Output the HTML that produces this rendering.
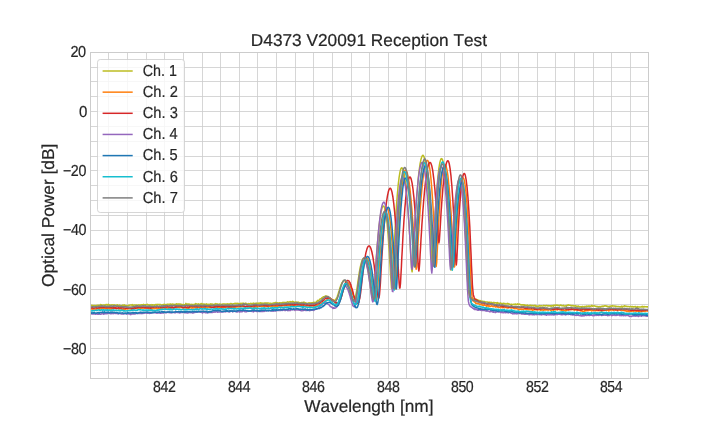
<!DOCTYPE html>
<html><head><meta charset="utf-8"><title>D4373 V20091 Reception Test</title>
<style>html,body{margin:0;padding:0;background:#fff}svg{display:block;will-change:transform}text{font-family:"Liberation Sans",Arial,sans-serif;fill:#262626;font-kerning:none;text-rendering:geometricPrecision;stroke:#262626;stroke-width:0.2px;stroke-linejoin:round}</style></head><body>
<svg width="720" height="432" viewBox="0 0 720 432">
<rect width="720" height="432" fill="#fff"/>
<defs><clipPath id="ax"><rect x="90.50" y="52.50" width="558.00" height="326.00"/></clipPath></defs>
<path d="M108.5 52.50V378.50M127.5 52.50V378.50M146.5 52.50V378.50M164.5 52.50V378.50M183.5 52.50V378.50M202.5 52.50V378.50M220.5 52.50V378.50M239.5 52.50V378.50M257.5 52.50V378.50M276.5 52.50V378.50M295.5 52.50V378.50M313.5 52.50V378.50M332.5 52.50V378.50M351.5 52.50V378.50M369.5 52.50V378.50M388.5 52.50V378.50M406.5 52.50V378.50M425.5 52.50V378.50M444.5 52.50V378.50M462.5 52.50V378.50M481.5 52.50V378.50M500.5 52.50V378.50M518.5 52.50V378.50M537.5 52.50V378.50M555.5 52.50V378.50M574.5 52.50V378.50M593.5 52.50V378.50M611.5 52.50V378.50M630.5 52.50V378.50" stroke="#cccccc" stroke-opacity="0.8" stroke-width="1" fill="none"/>
<path d="M90.50 67.5H648.50M90.50 81.5H648.50M90.50 96.5H648.50M90.50 111.5H648.50M90.50 126.5H648.50M90.50 141.5H648.50M90.50 156.5H648.50M90.50 170.5H648.50M90.50 185.5H648.50M90.50 200.5H648.50M90.50 215.5H648.50M90.50 230.5H648.50M90.50 244.5H648.50M90.50 259.5H648.50M90.50 274.5H648.50M90.50 289.5H648.50M90.50 304.5H648.50M90.50 319.5H648.50M90.50 333.5H648.50M90.50 348.5H648.50M90.50 363.5H648.50" stroke="#cccccc" stroke-opacity="0.8" stroke-width="1" fill="none"/>
<g clip-path="url(#ax)" fill="none" stroke-width="1.5" stroke-linejoin="round">
<polyline stroke="#bcbd22" points="90.2,305.4 90.7,305.2 91.1,305.5 91.6,305.4 92.0,305.3 92.5,305.6 92.9,305.5 93.4,305.5 93.8,305.8 94.3,305.5 94.7,305.6 95.2,305.9 95.6,305.5 96.1,305.5 96.5,305.6 97.0,305.9 97.4,305.2 97.8,305.2 98.3,305.2 98.7,305.2 99.2,305.6 99.6,305.2 100.1,305.4 100.5,304.5 101.0,305.2 101.4,304.9 101.9,305.4 102.3,305.3 102.8,305.2 103.2,304.9 103.7,305.0 104.1,305.0 104.6,305.5 105.0,304.8 105.4,305.3 105.9,304.6 106.3,304.5 106.8,304.8 107.2,304.7 107.7,305.3 108.1,304.3 108.6,305.0 109.0,304.8 109.5,305.2 109.9,305.0 110.4,305.3 110.8,305.1 111.3,305.0 111.7,305.0 112.2,304.7 112.6,305.0 113.0,305.1 113.5,305.2 113.9,304.7 114.4,305.4 114.8,305.0 115.3,305.8 115.7,305.5 116.2,305.3 116.6,305.4 117.1,304.7 117.5,304.8 118.0,305.9 118.4,305.8 118.9,305.5 119.3,305.1 119.8,305.2 120.2,305.4 120.6,305.8 121.1,305.6 121.5,306.1 122.0,305.8 122.4,305.2 122.9,305.1 123.3,305.6 123.8,305.3 124.2,304.9 124.7,305.4 125.1,305.5 125.6,305.4 126.0,305.4 126.5,305.6 126.9,305.8 127.4,305.8 127.8,305.6 128.2,305.8 128.7,305.3 129.1,305.4 129.6,305.2 130.0,304.9 130.5,305.0 130.9,304.9 131.4,305.1 131.8,305.2 132.3,304.5 132.7,305.3 133.2,305.2 133.6,305.3 134.1,305.0 134.5,305.0 135.0,304.9 135.4,305.2 135.8,305.6 136.3,305.1 136.7,305.0 137.2,305.2 137.6,305.2 138.1,305.0 138.5,304.8 139.0,305.1 139.4,305.4 139.9,305.1 140.3,305.0 140.8,305.3 141.2,304.7 141.7,305.0 142.1,304.7 142.5,304.8 143.0,304.9 143.4,304.4 143.9,305.0 144.3,305.0 144.8,304.7 145.2,304.6 145.7,304.8 146.1,305.1 146.6,304.7 147.0,304.7 147.5,304.3 147.9,304.9 148.4,304.8 148.8,305.0 149.3,305.3 149.7,304.9 150.1,304.7 150.6,305.1 151.0,305.0 151.5,305.2 151.9,304.6 152.4,305.1 152.8,304.8 153.3,305.1 153.7,304.9 154.2,305.0 154.6,305.4 155.1,304.7 155.5,304.5 156.0,305.1 156.4,304.5 156.9,304.5 157.3,304.7 157.7,304.5 158.2,304.9 158.6,304.4 159.1,304.3 159.5,304.9 160.0,304.7 160.4,304.4 160.9,304.8 161.3,305.0 161.8,305.1 162.2,304.8 162.7,304.9 163.1,304.6 163.6,305.1 164.0,304.4 164.5,304.7 164.9,304.4 165.3,304.7 165.8,304.9 166.2,304.6 166.7,304.7 167.1,304.5 167.6,304.3 168.0,304.1 168.5,304.3 168.9,304.4 169.4,304.4 169.8,304.1 170.3,303.9 170.7,304.3 171.2,304.2 171.6,304.4 172.1,304.2 172.5,304.0 172.9,305.0 173.4,304.2 173.8,304.5 174.3,304.9 174.7,304.3 175.2,304.4 175.6,304.3 176.1,304.7 176.5,303.8 177.0,304.3 177.4,304.3 177.9,303.9 178.3,304.1 178.8,304.0 179.2,304.0 179.6,304.8 180.1,303.9 180.5,304.5 181.0,304.4 181.4,304.3 181.9,304.8 182.3,304.6 182.8,304.4 183.2,304.6 183.7,304.5 184.1,304.9 184.6,304.8 185.0,304.7 185.5,304.3 185.9,303.4 186.4,304.2 186.8,304.3 187.2,304.3 187.7,304.0 188.1,304.1 188.6,304.6 189.0,304.1 189.5,304.4 189.9,304.2 190.4,304.9 190.8,304.8 191.3,304.3 191.7,304.9 192.2,304.4 192.6,304.4 193.1,304.4 193.5,304.4 194.0,304.4 194.4,304.3 194.8,304.4 195.3,304.3 195.7,303.5 196.2,303.9 196.6,304.0 197.1,304.1 197.5,304.3 198.0,304.1 198.4,304.2 198.9,303.9 199.3,304.4 199.8,304.8 200.2,304.3 200.7,304.0 201.1,303.5 201.6,303.8 202.0,304.3 202.4,304.0 202.9,304.2 203.3,304.0 203.8,304.3 204.2,304.5 204.7,304.1 205.1,304.2 205.6,304.4 206.0,304.3 206.5,303.9 206.9,304.4 207.4,304.6 207.8,304.3 208.3,304.9 208.7,304.2 209.2,304.6 209.6,304.5 210.0,304.3 210.5,303.9 210.9,304.5 211.4,304.0 211.8,304.2 212.3,304.6 212.7,304.0 213.2,304.4 213.6,304.6 214.1,304.4 214.5,304.3 215.0,303.9 215.4,304.2 215.9,303.6 216.3,303.9 216.8,304.1 217.2,304.1 217.6,303.9 218.1,304.5 218.5,304.5 219.0,304.3 219.4,303.9 219.9,304.1 220.3,304.2 220.8,304.3 221.2,304.8 221.7,304.3 222.1,304.7 222.6,304.0 223.0,304.1 223.5,304.1 223.9,303.9 224.4,303.9 224.8,304.0 225.2,304.0 225.7,304.2 226.1,304.5 226.6,304.1 227.0,303.8 227.5,303.9 227.9,304.2 228.4,304.0 228.8,304.3 229.3,304.0 229.7,304.2 230.2,304.0 230.6,303.5 231.1,303.8 231.5,303.6 231.9,304.1 232.4,304.1 232.8,303.9 233.3,303.7 233.7,303.9 234.2,303.5 234.6,303.8 235.1,303.3 235.5,303.4 236.0,303.9 236.4,303.4 236.9,303.6 237.3,303.3 237.8,303.8 238.2,303.6 238.7,303.5 239.1,304.4 239.5,304.1 240.0,303.6 240.4,303.6 240.9,303.3 241.3,303.4 241.8,303.7 242.2,303.3 242.7,303.5 243.1,303.3 243.6,303.4 244.0,303.2 244.5,303.7 244.9,303.7 245.4,304.0 245.8,303.0 246.3,303.9 246.7,303.9 247.1,304.0 247.6,304.0 248.0,303.9 248.5,303.6 248.9,303.7 249.4,303.7 249.8,303.9 250.3,303.7 250.7,303.3 251.2,303.6 251.6,303.5 252.1,304.1 252.5,303.4 253.0,303.4 253.4,303.1 253.9,304.1 254.3,303.4 254.7,303.4 255.2,303.3 255.6,303.5 256.1,303.3 256.5,303.1 257.0,303.3 257.4,303.3 257.9,303.3 258.3,303.3 258.8,303.1 259.2,303.3 259.7,303.6 260.1,302.7 260.6,303.4 261.0,303.0 261.5,303.3 261.9,303.1 262.3,303.3 262.8,303.1 263.2,303.3 263.7,303.5 264.1,303.1 264.6,302.9 265.0,303.1 265.5,303.1 265.9,303.4 266.4,303.1 266.8,303.0 267.3,303.3 267.7,302.9 268.2,303.1 268.6,303.1 269.0,303.3 269.5,303.4 269.9,303.3 270.4,303.3 270.8,303.3 271.3,303.7 271.7,303.6 272.2,303.4 272.6,303.8 273.1,303.0 273.5,303.1 274.0,303.1 274.4,303.2 274.9,302.8 275.3,303.0 275.8,302.4 276.2,302.8 276.6,303.3 277.1,302.7 277.5,303.0 278.0,303.0 278.4,302.9 278.9,302.9 279.3,302.8 279.8,302.7 280.2,302.8 280.7,303.0 281.1,303.2 281.6,303.0 282.0,302.7 282.5,302.5 282.9,302.3 283.4,303.0 283.8,302.6 284.2,302.6 284.7,302.6 285.1,302.4 285.6,302.4 286.0,302.4 286.5,302.4 286.9,302.1 287.4,301.9 287.8,301.7 288.3,302.2 288.7,302.2 289.2,302.0 289.6,302.1 290.1,301.6 290.5,302.0 291.0,301.8 291.4,302.1 291.8,301.9 292.3,301.8 292.7,301.4 293.2,302.0 293.6,301.8 294.1,302.4 294.5,302.2 295.0,302.2 295.4,302.1 295.9,302.0 296.3,302.0 296.8,302.6 297.2,302.2 297.7,302.7 298.1,302.0 298.6,302.5 299.0,302.5 299.4,302.7 299.9,302.7 300.3,302.7 300.8,302.8 301.2,302.5 301.7,302.6 302.1,302.5 302.6,302.7 303.0,302.6 303.5,303.0 303.9,301.9 304.4,303.1 304.8,303.1 305.3,302.7 305.7,302.7 306.2,303.3 306.6,303.5 307.0,303.4 307.5,303.3 307.9,303.3 308.4,303.1 308.8,302.8 309.3,302.8 309.7,303.3 310.2,303.0 310.6,302.9 311.1,302.7 311.5,303.1 312.0,303.2 312.4,302.8 312.9,302.6 313.3,303.0 313.8,302.3 314.2,302.3 314.6,302.6 315.1,302.8 315.5,302.4 316.0,302.1 316.4,301.7 316.9,302.0 317.3,300.7 317.8,300.4 318.2,300.9 318.7,300.8 319.1,300.1 319.6,299.6 320.0,299.0 320.5,298.9 320.9,298.7 321.3,298.8 321.8,297.9 322.2,297.5 322.7,297.5 323.1,297.0 323.6,296.8 324.0,296.7 324.5,296.7 324.9,296.2 325.4,296.5 325.8,295.8 326.3,296.3 326.7,296.1 327.2,296.5 327.6,296.4 328.1,296.8 328.5,296.9 328.9,297.5 329.4,298.0 329.8,298.0 330.3,298.4 330.7,299.1 331.2,299.2 331.6,299.8 332.1,299.8 332.5,300.2 333.0,300.3 333.4,299.9 333.9,300.5 334.3,300.4 334.8,300.2 335.2,300.1 335.7,299.8 336.1,298.9 336.5,298.0 337.0,297.9 337.4,296.1 337.9,294.9 338.3,293.5 338.8,291.7 339.2,290.5 339.7,288.8 340.1,287.5 340.6,286.1 341.0,284.7 341.5,283.8 341.9,282.8 342.4,282.1 342.8,281.4 343.3,280.8 343.7,280.5 344.1,280.6 344.6,280.7 345.0,280.7 345.5,281.5 345.9,282.2 346.4,282.9 346.8,284.0 347.3,285.1 347.7,286.2 348.2,287.6 348.6,289.2 349.1,290.3 349.5,292.1 350.0,293.5 350.4,294.8 350.9,296.1 351.3,297.1 351.7,298.1 352.2,299.1 352.6,299.5 353.1,300.1 353.5,300.3 354.0,300.1 354.4,299.3 354.9,298.6 355.3,297.1 355.8,295.2 356.2,293.2 356.7,290.6 357.1,287.7 357.6,284.4 358.0,281.2 358.5,278.1 358.9,275.3 359.3,272.4 359.8,269.8 360.2,267.4 360.7,265.3 361.1,263.5 361.6,261.9 362.0,260.6 362.5,259.6 362.9,258.9 363.4,258.5 363.8,258.4 364.3,258.5 364.7,259.0 365.2,259.7 365.6,260.7 366.0,262.0 366.5,263.6 366.9,265.5 367.4,267.6 367.8,270.1 368.3,272.7 368.7,275.5 369.2,278.6 369.6,281.5 370.1,284.6 370.5,287.9 371.0,290.9 371.4,293.5 371.9,295.6 372.3,296.9 372.8,297.5 373.2,296.2 373.6,293.6 374.1,289.0 374.5,283.3 375.0,277.0 375.4,270.5 375.9,263.9 376.3,257.5 376.8,251.4 377.2,245.6 377.7,240.2 378.1,235.2 378.6,230.6 379.0,226.3 379.5,222.5 379.9,219.1 380.4,216.0 380.8,213.4 381.2,211.2 381.7,209.3 382.1,207.9 382.6,206.9 383.0,206.2 383.5,206.0 383.9,206.3 384.4,207.1 384.8,208.4 385.3,210.3 385.7,212.8 386.2,215.9 386.6,219.4 387.1,223.6 387.5,228.3 388.0,233.5 388.4,239.3 388.8,245.6 389.3,252.4 389.7,259.7 390.2,267.4 390.6,275.2 391.1,282.3 391.5,288.0 392.0,288.7 392.4,284.1 392.9,275.5 393.3,265.8 393.8,256.1 394.2,246.6 394.7,237.6 395.1,229.1 395.6,221.1 396.0,213.7 396.4,206.8 396.9,200.5 397.3,194.7 397.8,189.5 398.2,184.9 398.7,180.8 399.1,177.3 399.6,174.3 400.0,171.9 400.5,170.0 400.9,168.7 401.4,168.0 401.8,167.8 402.3,168.1 402.7,168.8 403.1,169.9 403.6,171.5 404.0,173.5 404.5,175.9 404.9,178.7 405.4,182.0 405.8,185.7 406.3,189.9 406.7,194.4 407.2,199.4 407.6,204.8 408.1,210.7 408.5,216.9 409.0,223.6 409.4,230.7 409.9,238.2 410.3,246.1 410.7,254.3 411.2,262.4 411.6,269.2 412.1,271.8 412.5,268.0 413.0,260.4 413.4,251.7 413.9,243.1 414.3,234.7 414.8,226.7 415.2,219.1 415.7,211.9 416.1,205.2 416.6,198.9 417.0,193.0 417.5,187.5 417.9,182.5 418.3,177.9 418.8,173.7 419.2,170.0 419.7,166.6 420.1,163.7 420.6,161.3 421.0,159.2 421.5,157.6 421.9,156.4 422.4,155.7 422.8,155.3 423.3,155.5 423.7,156.2 424.2,157.4 424.6,159.2 425.1,161.5 425.5,164.5 425.9,167.9 426.4,171.9 426.8,176.5 427.3,181.7 427.7,187.4 428.2,193.6 428.6,200.4 429.1,207.8 429.5,215.7 430.0,224.2 430.4,233.2 430.9,242.7 431.3,252.5 431.8,261.7 432.2,267.4 432.7,265.1 433.1,257.0 433.5,247.4 434.0,237.9 434.4,228.8 434.9,220.2 435.3,212.2 435.8,204.8 436.2,197.9 436.7,191.6 437.1,185.8 437.6,180.6 438.0,175.9 438.5,171.8 438.9,168.2 439.4,165.2 439.8,162.8 440.3,160.9 440.7,159.6 441.1,158.8 441.6,158.6 442.0,158.9 442.5,159.8 442.9,161.2 443.4,163.1 443.8,165.6 444.3,168.6 444.7,172.1 445.2,176.2 445.6,180.8 446.1,186.0 446.5,191.6 447.0,197.9 447.4,204.6 447.9,211.9 448.3,219.7 448.7,228.0 449.2,236.9 449.6,246.2 450.1,255.7 450.5,264.6 451.0,270.1 451.4,268.5 451.9,261.6 452.3,253.2 452.8,244.8 453.2,236.8 453.7,229.2 454.1,222.2 454.6,215.7 455.0,209.7 455.4,204.3 455.9,199.4 456.3,195.0 456.8,191.2 457.2,187.9 457.7,185.2 458.1,182.9 458.6,181.2 459.0,180.1 459.5,179.5 459.9,179.4 460.4,180.0 460.8,181.3 461.3,183.2 461.7,185.9 462.2,189.3 462.6,193.4 463.0,198.2 463.5,203.7 463.9,209.9 464.4,216.8 464.8,224.4 465.3,232.6 465.7,241.4 466.2,250.8 466.6,260.5 467.1,270.2 467.5,279.2 468.0,285.9 468.4,290.8 468.9,293.6 469.3,295.5 469.8,296.0 470.2,297.3 470.6,297.3 471.1,298.2 471.5,298.0 472.0,297.9 472.4,298.5 472.9,298.3 473.3,298.9 473.8,299.0 474.2,299.2 474.7,299.1 475.1,299.4 475.6,299.2 476.0,299.2 476.5,299.6 476.9,300.1 477.4,299.8 477.8,299.8 478.2,300.1 478.7,300.4 479.1,300.4 479.6,300.4 480.0,301.6 480.5,300.6 480.9,300.9 481.4,301.1 481.8,301.4 482.3,301.3 482.7,301.3 483.2,302.0 483.6,301.5 484.1,301.8 484.5,301.5 485.0,301.8 485.4,302.0 485.8,302.0 486.3,301.9 486.7,302.0 487.2,301.9 487.6,302.2 488.1,302.3 488.5,302.2 489.0,302.5 489.4,302.4 489.9,302.1 490.3,302.7 490.8,302.7 491.2,302.3 491.7,302.6 492.1,302.6 492.5,302.9 493.0,302.9 493.4,302.8 493.9,302.3 494.3,302.6 494.8,303.2 495.2,302.7 495.7,302.7 496.1,302.8 496.6,303.3 497.0,303.1 497.5,302.6 497.9,303.4 498.4,303.1 498.8,303.4 499.3,303.6 499.7,303.4 500.1,303.0 500.6,303.0 501.0,303.6 501.5,303.5 501.9,303.7 502.4,304.1 502.8,303.5 503.3,303.3 503.7,303.4 504.2,303.9 504.6,303.5 505.1,303.6 505.5,304.0 506.0,303.9 506.4,303.9 506.9,303.7 507.3,303.3 507.7,304.0 508.2,304.1 508.6,303.6 509.1,303.9 509.5,304.5 510.0,304.3 510.4,304.4 510.9,304.5 511.3,304.3 511.8,304.2 512.2,304.6 512.7,304.5 513.1,304.8 513.6,304.3 514.0,304.2 514.5,304.6 514.9,304.7 515.3,303.9 515.8,304.1 516.2,304.5 516.7,304.7 517.1,304.3 517.6,303.9 518.0,304.4 518.5,304.3 518.9,304.4 519.4,304.2 519.8,304.1 520.3,304.9 520.7,304.7 521.2,304.8 521.6,304.9 522.1,305.1 522.5,304.7 522.9,304.9 523.4,304.8 523.8,304.7 524.3,305.2 524.7,305.0 525.2,305.3 525.6,305.3 526.1,305.2 526.5,305.4 527.0,305.7 527.4,305.0 527.9,305.4 528.3,305.7 528.8,306.0 529.2,305.4 529.7,305.3 530.1,305.2 530.5,305.2 531.0,305.6 531.4,305.4 531.9,305.9 532.3,305.5 532.8,305.4 533.2,305.8 533.7,305.7 534.1,305.6 534.6,305.7 535.0,305.4 535.5,306.1 535.9,305.5 536.4,306.3 536.8,306.2 537.2,306.3 537.7,306.1 538.1,306.3 538.6,306.0 539.0,306.1 539.5,305.5 539.9,305.9 540.4,306.1 540.8,305.8 541.3,305.7 541.7,305.9 542.2,306.0 542.6,305.9 543.1,305.7 543.5,305.5 544.0,305.6 544.4,305.8 544.8,305.6 545.3,305.9 545.7,305.8 546.2,305.5 546.6,305.6 547.1,305.5 547.5,305.9 548.0,305.7 548.4,306.0 548.9,305.5 549.3,305.8 549.8,306.0 550.2,305.8 550.7,305.7 551.1,306.3 551.6,306.1 552.0,305.5 552.4,305.7 552.9,305.7 553.3,306.1 553.8,305.2 554.2,305.3 554.7,305.3 555.1,305.7 555.6,305.2 556.0,304.9 556.5,305.3 556.9,305.2 557.4,305.3 557.8,305.1 558.3,305.3 558.7,305.4 559.2,305.8 559.6,305.9 560.0,305.2 560.5,305.1 560.9,305.3 561.4,305.2 561.8,305.8 562.3,305.7 562.7,305.6 563.2,305.8 563.6,305.4 564.1,306.2 564.5,306.0 565.0,305.9 565.4,306.0 565.9,305.6 566.3,306.2 566.8,305.3 567.2,305.3 567.6,305.4 568.1,305.0 568.5,304.8 569.0,305.3 569.4,305.2 569.9,305.3 570.3,305.3 570.8,305.7 571.2,305.8 571.7,305.5 572.1,305.9 572.6,305.6 573.0,305.6 573.5,306.0 573.9,305.8 574.4,305.9 574.8,305.9 575.2,305.7 575.7,306.0 576.1,306.0 576.6,306.7 577.0,306.1 577.5,306.7 577.9,306.6 578.4,306.1 578.8,306.2 579.3,306.8 579.7,307.0 580.2,306.6 580.6,306.9 581.1,306.7 581.5,307.1 582.0,306.5 582.4,306.3 582.8,307.1 583.3,306.9 583.7,306.8 584.2,306.4 584.6,307.0 585.1,306.4 585.5,306.4 586.0,306.5 586.4,306.0 586.9,306.7 587.3,306.5 587.8,306.3 588.2,305.9 588.7,306.2 589.1,306.3 589.5,306.0 590.0,306.3 590.4,306.3 590.9,306.2 591.3,306.0 591.8,305.4 592.2,306.3 592.7,306.0 593.1,306.1 593.6,306.1 594.0,305.7 594.5,305.9 594.9,306.0 595.4,306.3 595.8,306.5 596.3,306.3 596.7,306.5 597.1,306.6 597.6,306.4 598.0,306.9 598.5,306.9 598.9,306.5 599.4,306.8 599.8,306.6 600.3,307.0 600.7,306.5 601.2,306.8 601.6,306.3 602.1,306.3 602.5,306.3 603.0,306.0 603.4,306.2 603.9,306.4 604.3,305.8 604.7,306.0 605.2,305.8 605.6,306.0 606.1,305.8 606.5,306.3 607.0,306.5 607.4,306.6 607.9,306.1 608.3,306.8 608.8,306.8 609.2,306.7 609.7,306.2 610.1,306.1 610.6,306.4 611.0,306.0 611.5,306.0 611.9,305.8 612.3,305.8 612.8,306.2 613.2,306.0 613.7,306.1 614.1,306.0 614.6,306.1 615.0,306.3 615.5,306.1 615.9,306.4 616.4,306.3 616.8,306.5 617.3,306.7 617.7,306.5 618.2,306.5 618.6,306.5 619.1,306.6 619.5,306.8 619.9,306.7 620.4,306.6 620.8,307.1 621.3,306.8 621.7,306.1 622.2,306.4 622.6,307.1 623.1,306.4 623.5,306.3 624.0,306.6 624.4,305.7 624.9,306.0 625.3,306.1 625.8,306.4 626.2,306.3 626.6,306.3 627.1,306.4 627.5,306.7 628.0,306.6 628.4,306.6 628.9,306.6 629.3,306.9 629.8,306.6 630.2,306.6 630.7,306.6 631.1,306.6 631.6,307.0 632.0,306.4 632.5,306.5 632.9,307.0 633.4,306.7 633.8,307.0 634.2,306.9 634.7,306.6 635.1,306.8 635.6,306.5 636.0,307.0 636.5,307.3 636.9,307.0 637.4,307.7 637.8,306.6 638.3,307.0 638.7,306.9 639.2,306.9 639.6,307.1 640.1,306.9 640.5,307.0 641.0,306.9 641.4,306.7 641.8,307.0 642.3,306.3 642.7,307.0 643.2,306.5 643.6,306.9 644.1,307.0 644.5,306.6 645.0,306.7 645.4,306.8 645.9,306.8 646.3,306.9 646.8,306.7 647.2,306.9 647.7,306.8 648.1,306.5 648.6,307.2"/>
<polyline stroke="#ff7f0e" points="90.2,309.2 90.7,309.3 91.1,309.0 91.6,309.1 92.0,309.0 92.5,309.2 92.9,308.9 93.4,309.2 93.8,309.1 94.3,309.0 94.7,309.2 95.2,309.0 95.6,308.9 96.1,309.1 96.5,309.2 97.0,308.4 97.4,308.8 97.8,308.7 98.3,308.9 98.7,308.3 99.2,308.8 99.6,309.2 100.1,308.7 100.5,309.0 101.0,308.7 101.4,308.8 101.9,308.4 102.3,308.6 102.8,308.7 103.2,308.2 103.7,307.9 104.1,308.7 104.6,308.3 105.0,308.5 105.4,308.5 105.9,309.0 106.3,309.0 106.8,308.5 107.2,308.8 107.7,309.0 108.1,308.4 108.6,308.5 109.0,308.6 109.5,309.0 109.9,308.7 110.4,308.3 110.8,309.2 111.3,309.0 111.7,308.8 112.2,308.4 112.6,308.5 113.0,308.5 113.5,308.5 113.9,308.5 114.4,308.2 114.8,307.6 115.3,308.4 115.7,308.1 116.2,308.6 116.6,308.1 117.1,308.5 117.5,308.5 118.0,308.7 118.4,308.8 118.9,308.8 119.3,309.0 119.8,309.1 120.2,308.3 120.6,308.7 121.1,308.7 121.5,308.9 122.0,309.4 122.4,309.1 122.9,309.4 123.3,309.5 123.8,309.4 124.2,309.3 124.7,309.3 125.1,309.3 125.6,309.4 126.0,309.2 126.5,308.9 126.9,308.6 127.4,308.8 127.8,309.1 128.2,308.9 128.7,308.7 129.1,308.7 129.6,308.7 130.0,308.7 130.5,308.9 130.9,309.0 131.4,309.3 131.8,308.6 132.3,308.7 132.7,309.0 133.2,308.7 133.6,308.7 134.1,308.7 134.5,308.0 135.0,308.5 135.4,307.8 135.8,308.4 136.3,308.6 136.7,308.4 137.2,307.9 137.6,308.5 138.1,308.4 138.5,309.1 139.0,308.3 139.4,308.8 139.9,308.4 140.3,308.0 140.8,308.4 141.2,308.1 141.7,308.3 142.1,308.3 142.5,308.1 143.0,307.8 143.4,308.1 143.9,308.1 144.3,308.3 144.8,308.5 145.2,308.0 145.7,308.1 146.1,308.0 146.6,307.8 147.0,307.8 147.5,308.3 147.9,308.0 148.4,308.1 148.8,308.3 149.3,308.9 149.7,308.7 150.1,308.6 150.6,308.5 151.0,308.8 151.5,309.1 151.9,308.4 152.4,308.8 152.8,308.9 153.3,308.6 153.7,308.5 154.2,308.6 154.6,308.6 155.1,308.6 155.5,308.2 156.0,308.4 156.4,308.3 156.9,308.9 157.3,308.5 157.7,308.5 158.2,308.5 158.6,308.8 159.1,308.4 159.5,307.9 160.0,308.1 160.4,308.3 160.9,308.3 161.3,308.4 161.8,307.9 162.2,308.2 162.7,308.0 163.1,307.7 163.6,307.7 164.0,307.8 164.5,308.4 164.9,308.1 165.3,307.7 165.8,308.3 166.2,307.7 166.7,308.0 167.1,307.7 167.6,308.1 168.0,308.3 168.5,308.2 168.9,307.6 169.4,308.0 169.8,308.2 170.3,307.7 170.7,308.3 171.2,307.9 171.6,307.8 172.1,307.8 172.5,307.8 172.9,307.9 173.4,308.4 173.8,307.7 174.3,307.7 174.7,307.7 175.2,307.5 175.6,307.3 176.1,307.4 176.5,307.0 177.0,306.8 177.4,307.3 177.9,307.4 178.3,307.6 178.8,307.1 179.2,307.7 179.6,306.8 180.1,307.0 180.5,307.4 181.0,307.2 181.4,307.6 181.9,307.8 182.3,307.4 182.8,308.0 183.2,307.7 183.7,307.9 184.1,307.5 184.6,307.8 185.0,307.5 185.5,307.6 185.9,308.0 186.4,308.0 186.8,308.2 187.2,307.6 187.7,308.2 188.1,307.7 188.6,308.1 189.0,307.7 189.5,307.3 189.9,307.7 190.4,307.7 190.8,307.7 191.3,307.6 191.7,308.1 192.2,307.7 192.6,307.8 193.1,308.0 193.5,308.0 194.0,307.5 194.4,307.5 194.8,307.6 195.3,307.9 195.7,307.7 196.2,307.9 196.6,308.0 197.1,307.6 197.5,307.7 198.0,307.8 198.4,307.8 198.9,307.3 199.3,307.5 199.8,307.8 200.2,306.8 200.7,307.7 201.1,307.2 201.6,307.5 202.0,307.1 202.4,307.3 202.9,307.1 203.3,307.5 203.8,307.7 204.2,307.2 204.7,307.7 205.1,307.8 205.6,307.8 206.0,308.0 206.5,307.7 206.9,307.3 207.4,307.3 207.8,307.5 208.3,307.3 208.7,307.2 209.2,307.5 209.6,306.9 210.0,307.2 210.5,307.7 210.9,307.0 211.4,307.4 211.8,307.1 212.3,307.1 212.7,307.3 213.2,307.2 213.6,307.0 214.1,307.7 214.5,307.8 215.0,307.4 215.4,307.4 215.9,306.8 216.3,307.0 216.8,307.1 217.2,307.3 217.6,307.7 218.1,307.6 218.5,307.3 219.0,307.2 219.4,307.3 219.9,307.2 220.3,307.1 220.8,307.4 221.2,307.4 221.7,307.6 222.1,307.0 222.6,307.9 223.0,307.2 223.5,307.1 223.9,307.8 224.4,307.3 224.8,306.9 225.2,307.3 225.7,307.2 226.1,307.1 226.6,306.8 227.0,307.0 227.5,307.4 227.9,307.6 228.4,307.7 228.8,307.3 229.3,307.9 229.7,307.6 230.2,307.3 230.6,307.7 231.1,307.5 231.5,307.4 231.9,307.2 232.4,307.7 232.8,307.3 233.3,307.2 233.7,307.2 234.2,307.6 234.6,307.0 235.1,307.3 235.5,307.1 236.0,307.2 236.4,306.5 236.9,306.9 237.3,306.4 237.8,307.0 238.2,306.9 238.7,306.4 239.1,306.9 239.5,306.6 240.0,306.4 240.4,306.7 240.9,306.8 241.3,306.6 241.8,306.3 242.2,306.4 242.7,306.1 243.1,306.5 243.6,306.6 244.0,306.8 244.5,306.6 244.9,306.7 245.4,306.6 245.8,306.8 246.3,306.8 246.7,306.7 247.1,306.4 247.6,306.8 248.0,306.9 248.5,306.5 248.9,306.5 249.4,306.9 249.8,306.9 250.3,307.4 250.7,307.3 251.2,307.0 251.6,306.6 252.1,306.5 252.5,306.8 253.0,307.1 253.4,306.9 253.9,307.4 254.3,307.0 254.7,307.3 255.2,307.0 255.6,306.6 256.1,306.4 256.5,306.8 257.0,306.7 257.4,307.1 257.9,306.7 258.3,306.0 258.8,306.0 259.2,306.0 259.7,306.1 260.1,305.7 260.6,306.2 261.0,306.2 261.5,305.4 261.9,306.4 262.3,306.1 262.8,306.3 263.2,305.9 263.7,306.3 264.1,306.4 264.6,306.4 265.0,306.1 265.5,306.6 265.9,306.7 266.4,306.4 266.8,306.5 267.3,306.3 267.7,306.5 268.2,306.6 268.6,306.3 269.0,306.2 269.5,306.0 269.9,306.2 270.4,306.7 270.8,306.2 271.3,306.2 271.7,306.2 272.2,306.0 272.6,306.2 273.1,305.9 273.5,306.3 274.0,305.8 274.4,306.5 274.9,306.8 275.3,306.4 275.8,305.5 276.2,306.3 276.6,306.2 277.1,306.1 277.5,306.2 278.0,306.0 278.4,306.1 278.9,305.6 279.3,305.8 279.8,306.0 280.2,305.8 280.7,305.8 281.1,306.1 281.6,305.5 282.0,305.9 282.5,305.6 282.9,305.7 283.4,305.5 283.8,305.3 284.2,305.5 284.7,305.8 285.1,305.7 285.6,305.4 286.0,305.6 286.5,305.6 286.9,305.5 287.4,305.5 287.8,305.2 288.3,305.4 288.7,305.3 289.2,305.5 289.6,305.7 290.1,305.1 290.5,305.1 291.0,305.5 291.4,305.1 291.8,305.2 292.3,305.6 292.7,305.0 293.2,305.8 293.6,305.3 294.1,305.0 294.5,305.5 295.0,304.8 295.4,305.3 295.9,304.8 296.3,305.2 296.8,304.9 297.2,305.1 297.7,304.5 298.1,305.0 298.6,304.9 299.0,305.0 299.4,305.2 299.9,305.3 300.3,305.2 300.8,305.1 301.2,305.2 301.7,305.3 302.1,305.6 302.6,305.4 303.0,305.9 303.5,305.7 303.9,306.2 304.4,306.0 304.8,305.9 305.3,306.3 305.7,306.2 306.2,305.7 306.6,305.9 307.0,305.8 307.5,305.8 307.9,305.9 308.4,305.9 308.8,306.1 309.3,305.8 309.7,306.5 310.2,306.2 310.6,305.9 311.1,305.9 311.5,306.1 312.0,306.1 312.4,305.8 312.9,306.0 313.3,306.1 313.8,305.5 314.2,305.8 314.6,305.6 315.1,306.0 315.5,306.2 316.0,305.3 316.4,305.0 316.9,305.9 317.3,305.3 317.8,305.0 318.2,304.9 318.7,304.8 319.1,304.7 319.6,304.8 320.0,304.1 320.5,304.0 320.9,304.0 321.3,304.4 321.8,303.3 322.2,303.4 322.7,303.0 323.1,302.4 323.6,302.2 324.0,302.1 324.5,301.5 324.9,301.1 325.4,301.0 325.8,300.4 326.3,300.4 326.7,300.0 327.2,299.2 327.6,298.7 328.1,299.0 328.5,298.4 328.9,298.5 329.4,298.1 329.8,298.6 330.3,298.0 330.7,298.7 331.2,299.0 331.6,299.1 332.1,299.8 332.5,299.7 333.0,300.2 333.4,300.3 333.9,300.9 334.3,301.8 334.8,302.2 335.2,302.1 335.7,302.6 336.1,302.4 336.5,303.1 337.0,302.9 337.4,303.1 337.9,302.6 338.3,302.8 338.8,302.4 339.2,302.1 339.7,301.1 340.1,300.1 340.6,299.1 341.0,297.6 341.5,296.5 341.9,294.8 342.4,293.2 342.8,291.7 343.3,290.0 343.7,288.6 344.1,287.5 344.6,286.3 345.0,285.2 345.5,284.3 345.9,283.6 346.4,283.1 346.8,282.6 347.3,282.5 347.7,282.5 348.2,282.7 348.6,283.4 349.1,283.8 349.5,284.6 350.0,285.4 350.4,286.5 350.9,287.8 351.3,289.0 351.7,290.9 352.2,292.3 352.6,293.4 353.1,294.9 353.5,296.8 354.0,297.8 354.4,299.1 354.9,300.7 355.3,301.5 355.8,301.9 356.2,302.3 356.7,301.7 357.1,301.3 357.6,300.1 358.0,298.6 358.5,296.5 358.9,293.6 359.3,290.2 359.8,287.0 360.2,284.0 360.7,280.6 361.1,277.6 361.6,274.3 362.0,271.6 362.5,269.0 362.9,266.6 363.4,264.5 363.8,262.7 364.3,261.2 364.7,260.0 365.2,259.0 365.6,258.3 366.0,258.0 366.5,257.9 366.9,258.1 367.4,258.6 367.8,259.4 368.3,260.5 368.7,261.8 369.2,263.5 369.6,265.4 370.1,267.6 370.5,270.1 371.0,272.8 371.4,275.9 371.9,278.9 372.3,282.2 372.8,285.5 373.2,288.9 373.6,292.0 374.1,294.8 374.5,297.6 375.0,299.8 375.4,300.6 375.9,301.2 376.3,300.3 376.8,297.6 377.2,293.7 377.7,288.2 378.1,282.1 378.6,275.3 379.0,268.7 379.5,262.1 379.9,255.9 380.4,249.9 380.8,244.3 381.2,239.1 381.7,234.3 382.1,229.9 382.6,225.8 383.0,222.2 383.5,219.0 383.9,216.1 384.4,213.7 384.8,211.7 385.3,210.0 385.7,208.8 386.2,208.0 386.6,207.6 387.1,207.6 387.5,208.1 388.0,209.1 388.4,210.6 388.8,212.7 389.3,215.3 389.7,218.4 390.2,222.0 390.6,226.1 391.1,230.8 391.5,236.0 392.0,241.7 392.4,247.9 392.9,254.5 393.3,261.6 393.8,269.1 394.2,276.7 394.7,283.6 395.1,288.7 395.6,289.0 396.0,283.3 396.4,274.8 396.9,265.4 397.3,256.0 397.8,246.9 398.2,238.3 398.7,230.1 399.1,222.5 399.6,215.4 400.0,208.8 400.5,202.7 400.9,197.1 401.4,192.1 401.8,187.5 402.3,183.5 402.7,180.1 403.1,177.1 403.6,174.7 404.0,172.8 404.5,171.4 404.9,170.5 405.4,170.2 405.8,170.3 406.3,170.8 406.7,171.7 407.2,172.9 407.6,174.6 408.1,176.6 408.5,179.0 409.0,181.7 409.4,184.9 409.9,188.4 410.3,192.3 410.7,196.6 411.2,201.2 411.6,206.3 412.1,211.7 412.5,217.5 413.0,223.6 413.4,230.1 413.9,237.0 414.3,244.2 414.8,251.7 415.2,259.2 415.7,265.7 416.1,269.2 416.6,267.2 417.0,261.0 417.5,253.3 417.9,245.4 418.3,237.7 418.8,230.3 419.2,223.2 419.7,216.5 420.1,210.2 420.6,204.3 421.0,198.7 421.5,193.5 421.9,188.7 422.4,184.3 422.8,180.2 423.3,176.5 423.7,173.2 424.2,170.3 424.6,167.8 425.1,165.6 425.5,163.8 425.9,162.4 426.4,161.3 426.8,160.7 427.3,160.4 427.7,160.5 428.2,161.3 428.6,162.6 429.1,164.5 429.5,167.0 430.0,170.1 430.4,173.9 430.9,178.1 431.3,183.0 431.8,188.5 432.2,194.6 432.7,201.3 433.1,208.5 433.5,216.4 434.0,224.8 434.4,233.9 434.9,243.4 435.3,253.2 435.8,262.2 436.2,266.4 436.7,262.3 437.1,253.5 437.6,243.9 438.0,234.6 438.5,225.8 438.9,217.6 439.4,210.0 439.8,202.9 440.3,196.5 440.7,190.6 441.1,185.3 441.6,180.7 442.0,176.6 442.5,173.1 442.9,170.2 443.4,167.9 443.8,166.2 444.3,165.1 444.7,164.6 445.2,164.6 445.6,165.2 446.1,166.3 446.5,167.9 447.0,170.0 447.4,172.6 447.9,175.7 448.3,179.4 448.7,183.5 449.2,188.2 449.6,193.4 450.1,199.0 450.5,205.2 451.0,211.9 451.4,219.1 451.9,226.9 452.3,235.1 452.8,243.7 453.2,252.7 453.7,261.2 454.1,267.1 454.6,266.7 455.0,260.7 455.4,252.6 455.9,244.3 456.3,236.4 456.8,229.0 457.2,222.0 457.7,215.6 458.1,209.6 458.6,204.2 459.0,199.2 459.5,194.8 459.9,190.9 460.4,187.5 460.8,184.6 461.3,182.3 461.7,180.4 462.2,179.0 462.6,178.2 463.0,177.9 463.5,178.1 463.9,179.1 464.4,180.7 464.8,183.1 465.3,186.1 465.7,189.9 466.2,194.3 466.6,199.5 467.1,205.3 467.5,211.9 468.0,219.2 468.4,227.0 468.9,235.6 469.3,244.8 469.8,254.6 470.2,264.8 470.6,274.8 471.1,283.9 471.5,291.7 472.0,296.0 472.4,298.9 472.9,300.9 473.3,301.0 473.8,301.1 474.2,301.8 474.7,302.0 475.1,302.4 475.6,303.1 476.0,303.5 476.5,303.3 476.9,303.3 477.4,303.6 477.8,303.7 478.2,303.4 478.7,303.4 479.1,304.3 479.6,304.3 480.0,304.2 480.5,304.3 480.9,305.0 481.4,303.8 481.8,304.4 482.3,304.6 482.7,305.3 483.2,304.9 483.6,305.4 484.1,305.1 484.5,305.2 485.0,305.4 485.4,305.4 485.8,305.7 486.3,305.6 486.7,306.3 487.2,305.6 487.6,305.9 488.1,305.3 488.5,305.9 489.0,306.6 489.4,305.7 489.9,306.3 490.3,306.5 490.8,306.2 491.2,306.0 491.7,305.8 492.1,306.5 492.5,306.4 493.0,306.4 493.4,306.6 493.9,306.7 494.3,306.6 494.8,306.6 495.2,306.4 495.7,307.2 496.1,306.6 496.6,306.7 497.0,306.6 497.5,307.1 497.9,307.2 498.4,307.1 498.8,307.4 499.3,307.5 499.7,307.5 500.1,307.6 500.6,307.7 501.0,307.6 501.5,307.6 501.9,307.6 502.4,307.8 502.8,307.2 503.3,307.4 503.7,307.5 504.2,307.8 504.6,307.4 505.1,307.6 505.5,307.6 506.0,307.6 506.4,307.7 506.9,307.5 507.3,308.0 507.7,307.9 508.2,307.8 508.6,307.9 509.1,307.7 509.5,307.6 510.0,307.5 510.4,307.7 510.9,308.0 511.3,308.0 511.8,308.0 512.2,307.6 512.7,307.9 513.1,308.1 513.6,308.2 514.0,307.8 514.5,308.3 514.9,308.9 515.3,308.2 515.8,308.4 516.2,308.5 516.7,308.6 517.1,308.8 517.6,309.0 518.0,309.1 518.5,309.4 518.9,309.8 519.4,309.8 519.8,309.2 520.3,309.1 520.7,309.2 521.2,309.4 521.6,309.0 522.1,309.2 522.5,309.2 522.9,309.3 523.4,309.5 523.8,309.4 524.3,309.1 524.7,308.8 525.2,308.8 525.6,309.3 526.1,309.2 526.5,309.4 527.0,309.4 527.4,309.3 527.9,309.2 528.3,309.8 528.8,309.1 529.2,309.6 529.7,309.8 530.1,309.0 530.5,309.8 531.0,309.6 531.4,309.8 531.9,309.3 532.3,310.3 532.8,309.6 533.2,310.1 533.7,309.4 534.1,309.3 534.6,309.6 535.0,310.0 535.5,309.5 535.9,309.2 536.4,309.7 536.8,309.8 537.2,309.3 537.7,310.0 538.1,309.8 538.6,309.7 539.0,309.7 539.5,309.5 539.9,309.9 540.4,310.2 540.8,310.3 541.3,310.0 541.7,309.9 542.2,309.8 542.6,309.8 543.1,310.3 543.5,309.8 544.0,310.1 544.4,309.6 544.8,310.0 545.3,309.9 545.7,310.0 546.2,309.6 546.6,309.9 547.1,309.2 547.5,309.7 548.0,310.3 548.4,310.0 548.9,309.7 549.3,309.8 549.8,309.8 550.2,309.9 550.7,310.4 551.1,310.3 551.6,309.7 552.0,310.1 552.4,309.9 552.9,309.7 553.3,310.3 553.8,310.2 554.2,309.6 554.7,309.8 555.1,309.7 555.6,309.3 556.0,309.7 556.5,309.6 556.9,309.5 557.4,310.0 557.8,309.1 558.3,309.4 558.7,309.6 559.2,309.2 559.6,309.8 560.0,309.8 560.5,310.1 560.9,309.9 561.4,310.2 561.8,310.1 562.3,310.4 562.7,310.3 563.2,310.3 563.6,310.4 564.1,310.4 564.5,310.5 565.0,310.7 565.4,311.0 565.9,310.3 566.3,310.7 566.8,310.2 567.2,310.2 567.6,310.1 568.1,310.0 568.5,309.8 569.0,310.1 569.4,309.7 569.9,309.4 570.3,309.4 570.8,309.3 571.2,309.7 571.7,309.6 572.1,309.2 572.6,309.6 573.0,309.7 573.5,309.5 573.9,310.1 574.4,309.9 574.8,309.8 575.2,310.0 575.7,309.6 576.1,309.8 576.6,309.7 577.0,310.2 577.5,310.0 577.9,310.0 578.4,310.0 578.8,310.1 579.3,310.4 579.7,310.4 580.2,310.1 580.6,310.8 581.1,311.1 581.5,310.8 582.0,310.8 582.4,311.2 582.8,311.0 583.3,311.8 583.7,311.2 584.2,311.3 584.6,310.6 585.1,311.0 585.5,310.4 586.0,310.8 586.4,310.7 586.9,310.6 587.3,310.7 587.8,310.4 588.2,310.0 588.7,310.6 589.1,310.2 589.5,310.0 590.0,310.3 590.4,310.3 590.9,310.4 591.3,310.4 591.8,311.0 592.2,310.1 592.7,310.4 593.1,310.6 593.6,310.5 594.0,310.5 594.5,310.2 594.9,310.7 595.4,310.7 595.8,310.7 596.3,310.2 596.7,310.6 597.1,310.4 597.6,310.7 598.0,310.5 598.5,310.6 598.9,310.7 599.4,310.3 599.8,310.6 600.3,310.8 600.7,310.0 601.2,310.9 601.6,311.0 602.1,311.1 602.5,310.2 603.0,310.6 603.4,310.5 603.9,310.2 604.3,310.4 604.7,310.3 605.2,310.0 605.6,310.3 606.1,310.2 606.5,310.4 607.0,310.4 607.4,310.1 607.9,310.3 608.3,310.4 608.8,310.9 609.2,310.6 609.7,310.5 610.1,310.2 610.6,310.0 611.0,310.0 611.5,310.1 611.9,309.9 612.3,309.9 612.8,309.8 613.2,310.5 613.7,309.8 614.1,309.6 614.6,309.8 615.0,310.1 615.5,310.2 615.9,310.0 616.4,309.6 616.8,309.8 617.3,310.4 617.7,310.7 618.2,309.8 618.6,309.2 619.1,310.2 619.5,310.0 619.9,309.9 620.4,309.9 620.8,309.8 621.3,310.5 621.7,310.1 622.2,310.4 622.6,310.0 623.1,310.2 623.5,310.1 624.0,310.8 624.4,310.8 624.9,310.8 625.3,310.8 625.8,311.0 626.2,311.2 626.6,311.1 627.1,311.5 627.5,310.9 628.0,311.4 628.4,311.6 628.9,311.2 629.3,311.7 629.8,311.1 630.2,311.3 630.7,310.7 631.1,311.0 631.6,311.3 632.0,310.8 632.5,311.0 632.9,310.8 633.4,311.7 633.8,311.0 634.2,311.0 634.7,310.6 635.1,311.2 635.6,310.9 636.0,311.0 636.5,311.4 636.9,311.2 637.4,311.0 637.8,311.2 638.3,311.3 638.7,311.3 639.2,311.3 639.6,311.3 640.1,311.4 640.5,311.8 641.0,311.5 641.4,311.4 641.8,310.9 642.3,311.5 642.7,310.8 643.2,311.2 643.6,310.6 644.1,311.5 644.5,311.0 645.0,311.4 645.4,311.2 645.9,310.9 646.3,310.7 646.8,311.1 647.2,310.9 647.7,311.2 648.1,310.6 648.6,311.2"/>
<polyline stroke="#d62728" points="90.2,307.9 90.7,307.3 91.1,307.8 91.6,307.9 92.0,308.1 92.5,307.7 92.9,307.9 93.4,308.2 93.8,308.1 94.3,307.9 94.7,308.0 95.2,307.7 95.6,307.7 96.1,307.4 96.5,308.1 97.0,307.9 97.4,307.9 97.8,307.9 98.3,307.7 98.7,307.8 99.2,307.4 99.6,307.8 100.1,307.5 100.5,307.2 101.0,307.1 101.4,307.4 101.9,307.3 102.3,307.4 102.8,307.3 103.2,307.5 103.7,307.3 104.1,307.2 104.6,307.1 105.0,307.7 105.4,307.5 105.9,307.6 106.3,307.6 106.8,307.8 107.2,307.6 107.7,307.4 108.1,307.5 108.6,307.6 109.0,307.2 109.5,307.4 109.9,307.5 110.4,307.5 110.8,307.6 111.3,307.8 111.7,307.5 112.2,307.7 112.6,308.0 113.0,307.5 113.5,307.8 113.9,308.1 114.4,307.8 114.8,308.0 115.3,307.8 115.7,308.2 116.2,308.0 116.6,308.4 117.1,308.3 117.5,308.0 118.0,308.1 118.4,307.6 118.9,308.1 119.3,307.9 119.8,308.2 120.2,307.4 120.6,307.8 121.1,308.1 121.5,307.7 122.0,307.9 122.4,307.3 122.9,307.6 123.3,308.1 123.8,307.8 124.2,307.9 124.7,308.1 125.1,308.2 125.6,308.2 126.0,308.3 126.5,308.0 126.9,308.2 127.4,308.1 127.8,308.1 128.2,308.2 128.7,307.5 129.1,307.9 129.6,307.8 130.0,307.3 130.5,308.0 130.9,308.2 131.4,308.4 131.8,308.3 132.3,307.8 132.7,308.2 133.2,308.4 133.6,307.8 134.1,307.8 134.5,307.3 135.0,308.1 135.4,307.4 135.8,308.2 136.3,307.2 136.7,307.5 137.2,307.7 137.6,307.1 138.1,307.4 138.5,307.2 139.0,307.3 139.4,307.0 139.9,307.1 140.3,307.5 140.8,307.5 141.2,307.5 141.7,307.1 142.1,307.1 142.5,307.3 143.0,307.4 143.4,307.6 143.9,307.4 144.3,307.4 144.8,307.5 145.2,307.4 145.7,307.4 146.1,308.0 146.6,307.3 147.0,307.5 147.5,307.8 147.9,307.8 148.4,307.7 148.8,307.9 149.3,307.8 149.7,307.6 150.1,307.6 150.6,308.2 151.0,307.2 151.5,307.8 151.9,307.2 152.4,307.3 152.8,307.3 153.3,306.9 153.7,307.2 154.2,307.2 154.6,306.9 155.1,306.9 155.5,307.1 156.0,307.2 156.4,307.2 156.9,306.9 157.3,306.9 157.7,306.9 158.2,307.1 158.6,307.4 159.1,307.0 159.5,306.5 160.0,306.8 160.4,307.4 160.9,307.0 161.3,307.2 161.8,307.2 162.2,307.2 162.7,307.3 163.1,307.5 163.6,306.9 164.0,307.3 164.5,307.1 164.9,307.0 165.3,306.8 165.8,306.9 166.2,306.9 166.7,306.9 167.1,306.8 167.6,306.8 168.0,306.5 168.5,306.8 168.9,307.1 169.4,306.9 169.8,306.9 170.3,307.3 170.7,307.3 171.2,307.8 171.6,306.9 172.1,307.2 172.5,306.9 172.9,307.7 173.4,307.9 173.8,307.2 174.3,307.4 174.7,307.1 175.2,307.3 175.6,306.8 176.1,307.0 176.5,306.8 177.0,306.6 177.4,306.8 177.9,306.7 178.3,306.3 178.8,306.6 179.2,306.5 179.6,306.5 180.1,306.6 180.5,306.5 181.0,306.2 181.4,306.5 181.9,307.2 182.3,307.4 182.8,307.2 183.2,307.6 183.7,307.7 184.1,307.4 184.6,307.4 185.0,307.2 185.5,307.1 185.9,306.7 186.4,307.4 186.8,307.3 187.2,307.1 187.7,306.8 188.1,307.1 188.6,307.2 189.0,307.6 189.5,306.6 189.9,306.8 190.4,306.2 190.8,306.1 191.3,306.0 191.7,306.3 192.2,306.1 192.6,306.7 193.1,306.3 193.5,306.5 194.0,306.2 194.4,306.6 194.8,306.6 195.3,306.7 195.7,306.1 196.2,306.6 196.6,306.8 197.1,306.7 197.5,306.9 198.0,306.3 198.4,306.2 198.9,306.5 199.3,306.4 199.8,306.8 200.2,306.1 200.7,306.5 201.1,306.0 201.6,306.7 202.0,306.4 202.4,306.4 202.9,306.4 203.3,306.7 203.8,306.4 204.2,306.5 204.7,306.6 205.1,306.8 205.6,306.2 206.0,306.4 206.5,306.2 206.9,306.3 207.4,306.2 207.8,306.4 208.3,305.7 208.7,306.0 209.2,306.4 209.6,306.6 210.0,306.6 210.5,307.1 210.9,306.9 211.4,307.1 211.8,307.3 212.3,307.3 212.7,307.3 213.2,307.0 213.6,307.1 214.1,307.2 214.5,306.8 215.0,306.8 215.4,306.8 215.9,306.3 216.3,306.6 216.8,306.8 217.2,306.4 217.6,306.7 218.1,306.2 218.5,306.2 219.0,306.4 219.4,306.2 219.9,306.4 220.3,306.5 220.8,306.8 221.2,306.9 221.7,306.5 222.1,306.0 222.6,306.8 223.0,306.5 223.5,306.7 223.9,306.4 224.4,306.8 224.8,306.6 225.2,306.5 225.7,306.8 226.1,306.7 226.6,306.7 227.0,306.5 227.5,306.5 227.9,306.5 228.4,306.6 228.8,307.0 229.3,306.8 229.7,306.6 230.2,306.7 230.6,306.5 231.1,306.9 231.5,306.8 231.9,306.7 232.4,306.4 232.8,306.5 233.3,306.6 233.7,306.2 234.2,306.3 234.6,306.5 235.1,306.1 235.5,306.2 236.0,306.0 236.4,305.9 236.9,306.2 237.3,306.0 237.8,305.9 238.2,305.7 238.7,305.8 239.1,305.5 239.5,305.9 240.0,305.8 240.4,305.5 240.9,306.2 241.3,306.2 241.8,305.8 242.2,305.8 242.7,305.8 243.1,305.9 243.6,305.9 244.0,306.4 244.5,306.3 244.9,306.2 245.4,306.7 245.8,306.7 246.3,306.4 246.7,306.0 247.1,306.0 247.6,306.4 248.0,306.2 248.5,306.1 248.9,305.9 249.4,305.9 249.8,305.9 250.3,306.2 250.7,305.7 251.2,305.7 251.6,306.3 252.1,306.1 252.5,305.7 253.0,305.9 253.4,305.8 253.9,306.0 254.3,305.5 254.7,306.1 255.2,305.5 255.6,305.3 256.1,305.8 256.5,305.3 257.0,305.4 257.4,305.7 257.9,305.5 258.3,305.2 258.8,305.6 259.2,305.5 259.7,306.1 260.1,305.8 260.6,305.6 261.0,305.5 261.5,305.4 261.9,305.4 262.3,305.1 262.8,305.5 263.2,304.9 263.7,305.5 264.1,305.3 264.6,305.8 265.0,305.5 265.5,305.4 265.9,305.4 266.4,305.8 266.8,305.7 267.3,306.0 267.7,305.6 268.2,305.9 268.6,305.4 269.0,305.5 269.5,305.4 269.9,305.3 270.4,305.3 270.8,305.1 271.3,305.2 271.7,305.5 272.2,304.8 272.6,305.2 273.1,304.8 273.5,304.9 274.0,304.9 274.4,305.0 274.9,304.9 275.3,304.9 275.8,304.9 276.2,304.9 276.6,304.8 277.1,304.7 277.5,304.9 278.0,304.7 278.4,305.1 278.9,305.0 279.3,305.2 279.8,304.9 280.2,304.7 280.7,304.7 281.1,305.2 281.6,304.7 282.0,305.1 282.5,305.0 282.9,305.0 283.4,304.5 283.8,304.8 284.2,304.4 284.7,304.6 285.1,304.9 285.6,304.7 286.0,304.5 286.5,304.9 286.9,304.8 287.4,304.6 287.8,304.6 288.3,304.6 288.7,304.1 289.2,304.4 289.6,304.5 290.1,304.5 290.5,304.7 291.0,304.2 291.4,304.6 291.8,303.6 292.3,304.4 292.7,304.7 293.2,304.9 293.6,304.8 294.1,304.6 294.5,304.8 295.0,304.5 295.4,304.5 295.9,304.5 296.3,304.4 296.8,304.5 297.2,304.7 297.7,304.8 298.1,304.9 298.6,304.7 299.0,304.4 299.4,304.6 299.9,304.9 300.3,304.4 300.8,304.8 301.2,304.9 301.7,304.8 302.1,304.7 302.6,304.6 303.0,304.9 303.5,305.0 303.9,304.6 304.4,304.7 304.8,304.7 305.3,304.6 305.7,304.9 306.2,304.5 306.6,305.0 307.0,305.0 307.5,304.7 307.9,304.9 308.4,305.1 308.8,305.1 309.3,305.4 309.7,305.0 310.2,305.3 310.6,305.2 311.1,305.0 311.5,305.1 312.0,305.3 312.4,305.3 312.9,305.3 313.3,304.9 313.8,305.7 314.2,305.2 314.6,305.2 315.1,304.7 315.5,304.7 316.0,304.4 316.4,303.8 316.9,304.0 317.3,303.7 317.8,303.8 318.2,303.7 318.7,303.6 319.1,302.8 319.6,303.2 320.0,302.8 320.5,302.0 320.9,302.2 321.3,301.9 321.8,301.7 322.2,301.5 322.7,300.8 323.1,300.2 323.6,300.2 324.0,299.7 324.5,298.9 324.9,299.0 325.4,298.5 325.8,297.9 326.3,298.3 326.7,298.0 327.2,298.0 327.6,298.2 328.1,297.5 328.5,297.7 328.9,297.9 329.4,298.0 329.8,298.4 330.3,298.9 330.7,299.0 331.2,299.4 331.6,299.9 332.1,299.8 332.5,300.6 333.0,301.1 333.4,301.2 333.9,301.4 334.3,301.5 334.8,302.1 335.2,302.8 335.7,302.9 336.1,302.7 336.5,303.2 337.0,303.0 337.4,302.7 337.9,303.3 338.3,303.1 338.8,302.4 339.2,301.8 339.7,300.8 340.1,300.4 340.6,298.8 341.0,297.6 341.5,296.4 341.9,294.6 342.4,292.8 342.8,290.9 343.3,289.7 343.7,287.9 344.1,286.7 344.6,285.0 345.0,283.9 345.5,282.7 345.9,282.1 346.4,281.4 346.8,281.0 347.3,280.4 347.7,280.4 348.2,280.6 348.6,280.8 349.1,281.1 349.5,281.8 350.0,282.6 350.4,283.8 350.9,284.9 351.3,286.4 351.7,287.8 352.2,289.1 352.6,290.6 353.1,292.5 353.5,294.4 354.0,295.9 354.4,297.3 354.9,298.3 355.3,300.0 355.8,301.3 356.2,302.1 356.7,302.7 357.1,303.1 357.6,303.3 358.0,302.7 358.5,302.8 358.9,302.3 359.3,300.1 359.8,298.4 360.2,295.6 360.7,292.3 361.1,288.5 361.6,284.5 362.0,280.5 362.5,276.6 362.9,272.7 363.4,269.0 363.8,265.6 364.3,262.4 364.7,259.5 365.2,256.8 365.6,254.4 366.0,252.4 366.5,250.6 366.9,249.1 367.4,247.8 367.8,246.9 368.3,246.3 368.7,246.0 369.2,245.9 369.6,246.2 370.1,246.8 370.5,247.6 371.0,248.8 371.4,250.2 371.9,252.0 372.3,254.0 372.8,256.3 373.2,258.9 373.6,261.8 374.1,264.9 374.5,268.3 375.0,271.9 375.4,275.7 375.9,279.5 376.3,283.6 376.8,287.4 377.2,291.1 377.7,293.9 378.1,296.8 378.6,298.2 379.0,297.7 379.5,294.6 379.9,289.7 380.4,283.1 380.8,275.8 381.2,268.2 381.7,260.7 382.1,253.5 382.6,246.5 383.0,239.9 383.5,233.7 383.9,227.9 384.4,222.4 384.8,217.4 385.3,212.7 385.7,208.5 386.2,204.7 386.6,201.2 387.1,198.2 387.5,195.6 388.0,193.3 388.4,191.5 388.8,190.1 389.3,189.1 389.7,188.4 390.2,188.2 390.6,188.5 391.1,189.2 391.5,190.4 392.0,192.1 392.4,194.3 392.9,197.0 393.3,200.2 393.8,203.9 394.2,208.0 394.7,212.7 395.1,217.9 395.6,223.5 396.0,229.7 396.4,236.3 396.9,243.4 397.3,250.9 397.8,258.8 398.2,267.1 398.7,275.2 399.1,282.9 399.6,288.1 400.0,288.0 400.5,283.4 400.9,275.5 401.4,266.7 401.8,257.9 402.3,249.3 402.7,241.2 403.1,233.5 403.6,226.3 404.0,219.6 404.5,213.4 404.9,207.6 405.4,202.4 405.8,197.6 406.3,193.3 406.7,189.6 407.2,186.3 407.6,183.5 408.1,181.2 408.5,179.4 409.0,178.1 409.4,177.3 409.9,177.0 410.3,177.2 410.7,177.9 411.2,179.1 411.6,180.8 412.1,183.1 412.5,185.9 413.0,189.2 413.4,193.1 413.9,197.4 414.3,202.3 414.8,207.7 415.2,213.6 415.7,220.1 416.1,227.0 416.6,234.5 417.0,242.4 417.5,250.8 417.9,259.3 418.3,266.9 418.8,271.0 419.2,269.0 419.7,262.7 420.1,254.8 420.6,246.9 421.0,239.1 421.5,231.7 421.9,224.6 422.4,218.0 422.8,211.7 423.3,205.7 423.7,200.2 424.2,195.0 424.6,190.2 425.1,185.8 425.5,181.8 425.9,178.1 426.4,174.9 426.8,172.0 427.3,169.5 427.7,167.4 428.2,165.6 428.6,164.2 429.1,163.3 429.5,162.7 430.0,162.4 430.4,162.6 430.9,163.3 431.3,164.4 431.8,165.9 432.2,167.9 432.7,170.4 433.1,173.3 433.5,176.6 434.0,180.5 434.4,184.7 434.9,189.4 435.3,194.6 435.8,200.2 436.2,206.3 436.7,212.8 437.1,219.8 437.6,227.1 438.0,234.3 438.5,240.5 438.9,242.9 439.4,240.0 439.8,233.6 440.3,226.2 440.7,218.9 441.1,211.9 441.6,205.3 442.0,199.2 442.5,193.5 442.9,188.2 443.4,183.5 443.8,179.1 444.3,175.3 444.7,171.9 445.2,168.9 445.6,166.4 446.1,164.3 446.5,162.7 447.0,161.6 447.4,160.9 447.9,160.7 448.3,161.0 448.7,161.9 449.2,163.5 449.6,165.7 450.1,168.6 450.5,172.1 451.0,176.2 451.4,181.0 451.9,186.4 452.3,192.5 452.8,199.2 453.2,206.5 453.7,214.5 454.1,223.1 454.6,232.4 455.0,242.2 455.4,252.3 455.9,261.3 456.3,264.9 456.8,260.2 457.2,251.4 457.7,242.0 458.1,233.0 458.6,224.6 459.0,216.9 459.5,209.7 459.9,203.2 460.4,197.4 460.8,192.1 461.3,187.6 461.7,183.6 462.2,180.3 462.6,177.7 463.0,175.7 463.5,174.3 463.9,173.5 464.4,173.5 464.8,174.0 465.3,175.3 465.7,177.4 466.2,180.1 466.6,183.5 467.1,187.6 467.5,192.4 468.0,197.9 468.4,204.1 468.9,211.0 469.3,218.6 469.8,226.8 470.2,235.8 470.6,245.3 471.1,255.4 471.5,265.7 472.0,275.5 472.4,284.7 472.9,290.8 473.3,294.7 473.8,296.3 474.2,297.5 474.7,298.6 475.1,299.3 475.6,299.4 476.0,299.7 476.5,300.0 476.9,300.5 477.4,300.9 477.8,300.6 478.2,301.3 478.7,301.6 479.1,301.6 479.6,301.9 480.0,302.1 480.5,302.0 480.9,302.7 481.4,302.6 481.8,302.5 482.3,303.0 482.7,303.0 483.2,303.0 483.6,303.1 484.1,303.3 484.5,303.7 485.0,303.7 485.4,303.5 485.8,303.7 486.3,303.7 486.7,303.8 487.2,304.2 487.6,303.7 488.1,304.1 488.5,303.5 489.0,303.2 489.4,303.7 489.9,303.8 490.3,304.1 490.8,304.2 491.2,304.1 491.7,303.8 492.1,304.2 492.5,304.7 493.0,304.3 493.4,304.8 493.9,304.6 494.3,305.0 494.8,305.3 495.2,305.3 495.7,305.1 496.1,305.5 496.6,305.1 497.0,305.6 497.5,305.1 497.9,305.8 498.4,305.8 498.8,305.4 499.3,305.3 499.7,305.8 500.1,305.6 500.6,306.1 501.0,306.2 501.5,306.0 501.9,305.6 502.4,306.2 502.8,306.6 503.3,306.9 503.7,306.3 504.2,306.2 504.6,306.4 505.1,306.3 505.5,306.6 506.0,306.1 506.4,306.3 506.9,306.8 507.3,306.7 507.7,306.3 508.2,306.6 508.6,307.2 509.1,306.7 509.5,306.8 510.0,307.3 510.4,306.6 510.9,306.4 511.3,307.0 511.8,307.1 512.2,307.0 512.7,307.2 513.1,307.1 513.6,307.0 514.0,307.5 514.5,307.2 514.9,306.7 515.3,307.2 515.8,307.1 516.2,307.1 516.7,307.4 517.1,307.5 517.6,306.6 518.0,307.2 518.5,307.5 518.9,307.0 519.4,307.4 519.8,307.5 520.3,307.4 520.7,307.6 521.2,307.5 521.6,307.1 522.1,307.3 522.5,307.5 522.9,307.2 523.4,307.4 523.8,307.8 524.3,308.1 524.7,308.0 525.2,307.6 525.6,308.2 526.1,307.4 526.5,308.0 527.0,308.3 527.4,308.1 527.9,307.6 528.3,308.0 528.8,307.8 529.2,307.7 529.7,308.0 530.1,307.6 530.5,307.6 531.0,307.8 531.4,308.5 531.9,308.0 532.3,308.0 532.8,308.1 533.2,307.9 533.7,308.4 534.1,308.6 534.6,309.2 535.0,309.1 535.5,308.6 535.9,309.2 536.4,309.0 536.8,309.4 537.2,309.0 537.7,309.2 538.1,308.7 538.6,308.8 539.0,308.6 539.5,309.0 539.9,308.7 540.4,308.3 540.8,309.3 541.3,308.7 541.7,308.6 542.2,308.3 542.6,308.4 543.1,308.4 543.5,308.5 544.0,308.4 544.4,308.7 544.8,308.7 545.3,308.9 545.7,308.7 546.2,308.7 546.6,308.3 547.1,308.9 547.5,308.6 548.0,308.8 548.4,308.8 548.9,308.6 549.3,308.9 549.8,309.1 550.2,308.9 550.7,308.7 551.1,308.9 551.6,308.8 552.0,309.3 552.4,308.8 552.9,309.1 553.3,309.3 553.8,308.9 554.2,309.3 554.7,308.9 555.1,308.6 555.6,309.1 556.0,309.1 556.5,308.6 556.9,308.7 557.4,308.6 557.8,309.3 558.3,309.1 558.7,308.4 559.2,309.1 559.6,309.0 560.0,308.9 560.5,308.9 560.9,308.9 561.4,309.5 561.8,308.7 562.3,309.1 562.7,308.6 563.2,308.5 563.6,309.1 564.1,308.8 564.5,308.5 565.0,308.5 565.4,308.8 565.9,309.2 566.3,309.0 566.8,309.4 567.2,308.8 567.6,309.1 568.1,308.8 568.5,309.8 569.0,309.3 569.4,309.3 569.9,309.3 570.3,309.5 570.8,309.1 571.2,309.4 571.7,308.6 572.1,309.2 572.6,309.2 573.0,309.2 573.5,308.8 573.9,308.8 574.4,309.1 574.8,309.7 575.2,309.1 575.7,309.3 576.1,309.2 576.6,309.5 577.0,309.4 577.5,309.9 577.9,309.7 578.4,309.9 578.8,309.6 579.3,309.9 579.7,309.7 580.2,309.9 580.6,309.8 581.1,309.9 581.5,309.9 582.0,309.5 582.4,309.5 582.8,309.0 583.3,309.3 583.7,308.9 584.2,308.9 584.6,309.3 585.1,309.7 585.5,309.6 586.0,309.3 586.4,309.6 586.9,309.4 587.3,309.7 587.8,309.6 588.2,309.4 588.7,309.4 589.1,309.4 589.5,309.3 590.0,309.2 590.4,309.3 590.9,309.0 591.3,309.3 591.8,308.4 592.2,309.1 592.7,309.5 593.1,309.7 593.6,309.6 594.0,309.3 594.5,309.6 594.9,309.2 595.4,309.6 595.8,309.8 596.3,309.6 596.7,309.7 597.1,309.6 597.6,309.8 598.0,309.6 598.5,310.1 598.9,309.6 599.4,309.7 599.8,309.8 600.3,310.0 600.7,309.9 601.2,309.9 601.6,310.4 602.1,309.7 602.5,310.0 603.0,309.8 603.4,309.4 603.9,310.1 604.3,309.9 604.7,309.8 605.2,309.5 605.6,309.8 606.1,309.7 606.5,309.0 607.0,309.4 607.4,309.2 607.9,309.0 608.3,308.8 608.8,309.5 609.2,309.0 609.7,308.8 610.1,308.7 610.6,309.2 611.0,309.1 611.5,309.0 611.9,309.1 612.3,309.2 612.8,309.4 613.2,309.3 613.7,309.4 614.1,309.4 614.6,309.6 615.0,309.8 615.5,309.6 615.9,309.6 616.4,309.3 616.8,309.7 617.3,310.1 617.7,309.0 618.2,309.3 618.6,309.5 619.1,309.5 619.5,309.5 619.9,309.1 620.4,309.8 620.8,309.3 621.3,309.3 621.7,308.8 622.2,309.4 622.6,309.0 623.1,309.2 623.5,309.6 624.0,309.6 624.4,309.0 624.9,309.6 625.3,309.4 625.8,309.0 626.2,309.7 626.6,309.3 627.1,309.1 627.5,309.3 628.0,309.5 628.4,310.0 628.9,309.4 629.3,309.8 629.8,309.9 630.2,310.2 630.7,310.5 631.1,309.9 631.6,310.1 632.0,310.5 632.5,309.8 632.9,310.0 633.4,310.3 633.8,310.3 634.2,310.1 634.7,310.1 635.1,310.5 635.6,310.1 636.0,310.3 636.5,310.5 636.9,310.3 637.4,310.2 637.8,309.9 638.3,310.0 638.7,310.8 639.2,310.5 639.6,310.0 640.1,310.2 640.5,310.5 641.0,310.4 641.4,309.9 641.8,310.9 642.3,310.0 642.7,310.0 643.2,310.4 643.6,310.3 644.1,310.1 644.5,310.2 645.0,310.1 645.4,309.9 645.9,310.4 646.3,310.2 646.8,310.1 647.2,310.3 647.7,310.2 648.1,309.8 648.6,310.7"/>
<polyline stroke="#9467bd" points="90.2,313.8 90.7,314.1 91.1,313.4 91.6,313.6 92.0,314.1 92.5,313.9 92.9,313.6 93.4,314.1 93.8,313.9 94.3,313.9 94.7,314.0 95.2,313.8 95.6,314.3 96.1,313.6 96.5,313.9 97.0,313.8 97.4,314.2 97.8,313.2 98.3,313.7 98.7,314.3 99.2,314.0 99.6,313.9 100.1,314.1 100.5,314.2 101.0,314.2 101.4,314.0 101.9,313.8 102.3,313.7 102.8,313.4 103.2,313.8 103.7,314.3 104.1,313.7 104.6,313.4 105.0,313.9 105.4,313.5 105.9,313.4 106.3,313.7 106.8,313.5 107.2,313.7 107.7,313.0 108.1,313.2 108.6,313.3 109.0,313.2 109.5,313.2 109.9,313.6 110.4,313.7 110.8,313.7 111.3,313.7 111.7,313.2 112.2,313.1 112.6,313.0 113.0,313.8 113.5,313.5 113.9,313.2 114.4,313.0 114.8,313.6 115.3,313.6 115.7,313.6 116.2,313.4 116.6,313.4 117.1,313.3 117.5,313.7 118.0,313.2 118.4,313.9 118.9,313.5 119.3,313.3 119.8,313.4 120.2,313.6 120.6,313.8 121.1,313.8 121.5,314.0 122.0,314.0 122.4,314.0 122.9,313.5 123.3,314.1 123.8,314.0 124.2,313.5 124.7,313.7 125.1,313.4 125.6,313.4 126.0,313.7 126.5,313.5 126.9,314.1 127.4,313.8 127.8,313.5 128.2,313.8 128.7,313.9 129.1,313.3 129.6,313.8 130.0,314.4 130.5,313.7 130.9,314.6 131.4,313.9 131.8,313.9 132.3,314.1 132.7,314.1 133.2,314.0 133.6,313.2 134.1,314.1 134.5,314.0 135.0,313.8 135.4,313.9 135.8,313.3 136.3,313.6 136.7,313.6 137.2,313.3 137.6,313.4 138.1,313.5 138.5,313.4 139.0,313.4 139.4,313.4 139.9,313.4 140.3,313.4 140.8,313.0 141.2,313.7 141.7,313.3 142.1,313.2 142.5,313.4 143.0,313.4 143.4,313.1 143.9,313.4 144.3,313.1 144.8,313.0 145.2,313.1 145.7,313.0 146.1,312.8 146.6,312.6 147.0,313.3 147.5,312.7 147.9,313.2 148.4,313.2 148.8,313.0 149.3,313.0 149.7,313.5 150.1,312.6 150.6,313.1 151.0,312.8 151.5,312.8 151.9,312.7 152.4,312.8 152.8,312.6 153.3,312.6 153.7,312.7 154.2,312.3 154.6,312.6 155.1,312.5 155.5,312.8 156.0,312.9 156.4,312.7 156.9,313.2 157.3,312.5 157.7,313.0 158.2,313.1 158.6,313.1 159.1,313.0 159.5,312.9 160.0,312.9 160.4,313.2 160.9,313.3 161.3,313.0 161.8,313.0 162.2,313.1 162.7,312.5 163.1,313.0 163.6,312.9 164.0,312.4 164.5,312.6 164.9,312.5 165.3,312.7 165.8,312.7 166.2,312.6 166.7,312.8 167.1,312.2 167.6,312.3 168.0,311.9 168.5,312.5 168.9,312.6 169.4,312.2 169.8,312.6 170.3,312.2 170.7,312.6 171.2,313.0 171.6,312.6 172.1,312.6 172.5,312.4 172.9,312.6 173.4,312.4 173.8,312.4 174.3,312.7 174.7,312.7 175.2,312.6 175.6,312.8 176.1,312.3 176.5,312.2 177.0,312.4 177.4,312.5 177.9,312.6 178.3,312.2 178.8,312.2 179.2,313.0 179.6,312.0 180.1,312.2 180.5,312.8 181.0,312.6 181.4,312.6 181.9,312.5 182.3,312.6 182.8,312.4 183.2,312.3 183.7,311.9 184.1,312.5 184.6,312.7 185.0,312.3 185.5,312.7 185.9,312.7 186.4,312.7 186.8,312.9 187.2,312.9 187.7,312.8 188.1,312.9 188.6,312.7 189.0,312.1 189.5,312.5 189.9,312.7 190.4,312.7 190.8,312.1 191.3,312.6 191.7,312.4 192.2,312.9 192.6,313.0 193.1,312.4 193.5,312.9 194.0,312.4 194.4,312.2 194.8,312.5 195.3,312.3 195.7,312.2 196.2,312.2 196.6,312.1 197.1,312.0 197.5,311.9 198.0,311.9 198.4,311.8 198.9,311.8 199.3,311.9 199.8,312.2 200.2,312.0 200.7,312.0 201.1,312.2 201.6,312.4 202.0,311.9 202.4,313.0 202.9,312.3 203.3,312.5 203.8,312.2 204.2,312.1 204.7,312.4 205.1,312.7 205.6,312.4 206.0,312.8 206.5,312.5 206.9,312.7 207.4,312.4 207.8,312.9 208.3,312.5 208.7,312.4 209.2,312.5 209.6,312.5 210.0,312.6 210.5,312.5 210.9,312.0 211.4,312.5 211.8,312.6 212.3,312.5 212.7,312.3 213.2,312.0 213.6,312.2 214.1,311.9 214.5,311.7 215.0,312.2 215.4,311.9 215.9,312.0 216.3,311.7 216.8,311.7 217.2,311.8 217.6,312.2 218.1,312.0 218.5,312.0 219.0,312.0 219.4,312.1 219.9,311.9 220.3,311.9 220.8,311.9 221.2,312.1 221.7,312.0 222.1,312.1 222.6,311.9 223.0,311.6 223.5,311.7 223.9,311.7 224.4,311.3 224.8,311.7 225.2,311.6 225.7,311.9 226.1,311.4 226.6,311.6 227.0,311.4 227.5,311.4 227.9,311.6 228.4,311.5 228.8,311.9 229.3,311.7 229.7,312.0 230.2,311.3 230.6,311.3 231.1,311.2 231.5,311.2 231.9,311.1 232.4,311.5 232.8,311.9 233.3,311.6 233.7,311.0 234.2,311.3 234.6,311.2 235.1,311.3 235.5,311.4 236.0,311.7 236.4,311.9 236.9,311.5 237.3,311.9 237.8,311.3 238.2,311.6 238.7,311.6 239.1,311.7 239.5,312.1 240.0,311.8 240.4,311.3 240.9,311.8 241.3,311.7 241.8,311.0 242.2,311.8 242.7,311.3 243.1,311.2 243.6,310.8 244.0,311.0 244.5,311.2 244.9,311.8 245.4,311.4 245.8,311.8 246.3,311.3 246.7,311.7 247.1,311.1 247.6,311.2 248.0,311.4 248.5,311.1 248.9,311.1 249.4,311.1 249.8,311.1 250.3,310.9 250.7,311.2 251.2,311.3 251.6,311.2 252.1,311.5 252.5,311.1 253.0,311.2 253.4,311.9 253.9,311.4 254.3,311.3 254.7,311.3 255.2,311.1 255.6,310.8 256.1,310.7 256.5,311.5 257.0,310.8 257.4,311.5 257.9,310.8 258.3,311.0 258.8,311.4 259.2,311.3 259.7,311.4 260.1,311.0 260.6,311.5 261.0,311.5 261.5,311.3 261.9,311.0 262.3,311.5 262.8,311.2 263.2,311.4 263.7,310.9 264.1,311.4 264.6,310.9 265.0,310.9 265.5,311.0 265.9,310.6 266.4,310.4 266.8,310.8 267.3,310.7 267.7,310.7 268.2,310.4 268.6,310.5 269.0,310.6 269.5,310.7 269.9,310.8 270.4,310.7 270.8,310.7 271.3,310.3 271.7,310.5 272.2,311.3 272.6,310.9 273.1,310.5 273.5,310.5 274.0,311.2 274.4,310.8 274.9,310.4 275.3,310.9 275.8,310.8 276.2,310.6 276.6,310.8 277.1,310.2 277.5,310.4 278.0,310.3 278.4,310.5 278.9,310.1 279.3,310.4 279.8,310.5 280.2,310.3 280.7,310.6 281.1,310.4 281.6,309.7 282.0,310.4 282.5,310.4 282.9,310.2 283.4,310.0 283.8,310.0 284.2,310.0 284.7,310.4 285.1,310.1 285.6,310.5 286.0,309.8 286.5,309.9 286.9,309.9 287.4,310.5 287.8,310.7 288.3,310.2 288.7,310.4 289.2,310.5 289.6,310.4 290.1,310.5 290.5,310.5 291.0,309.9 291.4,309.8 291.8,309.6 292.3,309.7 292.7,309.7 293.2,309.6 293.6,309.8 294.1,309.7 294.5,309.9 295.0,310.4 295.4,309.8 295.9,309.5 296.3,309.6 296.8,310.1 297.2,309.9 297.7,310.0 298.1,309.6 298.6,309.7 299.0,310.3 299.4,310.3 299.9,310.3 300.3,310.4 300.8,309.9 301.2,310.8 301.7,310.7 302.1,310.8 302.6,310.6 303.0,310.3 303.5,310.6 303.9,310.2 304.4,309.9 304.8,310.3 305.3,310.0 305.7,310.4 306.2,310.3 306.6,310.5 307.0,310.2 307.5,310.4 307.9,310.3 308.4,310.3 308.8,310.2 309.3,310.7 309.7,310.3 310.2,310.5 310.6,310.4 311.1,310.2 311.5,310.0 312.0,310.2 312.4,310.2 312.9,309.7 313.3,309.9 313.8,310.5 314.2,309.8 314.6,309.8 315.1,309.4 315.5,309.3 316.0,308.9 316.4,309.2 316.9,308.7 317.3,308.6 317.8,308.5 318.2,308.3 318.7,307.5 319.1,306.8 319.6,306.8 320.0,306.0 320.5,305.8 320.9,305.2 321.3,305.0 321.8,304.4 322.2,304.4 322.7,303.7 323.1,303.2 323.6,303.1 324.0,303.2 324.5,303.3 324.9,302.8 325.4,303.1 325.8,302.9 326.3,302.8 326.7,303.7 327.2,303.6 327.6,303.9 328.1,304.1 328.5,304.5 328.9,304.6 329.4,305.3 329.8,305.7 330.3,306.6 330.7,306.6 331.2,307.0 331.6,307.2 332.1,307.2 332.5,308.0 333.0,308.5 333.4,307.6 333.9,308.2 334.3,308.3 334.8,307.9 335.2,307.9 335.7,307.9 336.1,307.5 336.5,307.0 337.0,306.7 337.4,305.6 337.9,304.1 338.3,303.2 338.8,301.9 339.2,300.1 339.7,298.8 340.1,297.0 340.6,295.6 341.0,294.2 341.5,292.6 341.9,291.3 342.4,290.3 342.8,288.9 343.3,288.1 343.7,287.3 344.1,287.0 344.6,286.6 345.0,286.5 345.5,286.4 345.9,286.6 346.4,286.9 346.8,287.7 347.3,288.5 347.7,289.3 348.2,290.4 348.6,291.8 349.1,293.1 349.5,294.6 350.0,295.9 350.4,297.7 350.9,299.2 351.3,300.5 351.7,302.3 352.2,303.4 352.6,305.1 353.1,306.0 353.5,306.2 354.0,306.7 354.4,306.9 354.9,306.3 355.3,305.1 355.8,302.7 356.2,300.3 356.7,297.3 357.1,294.0 357.6,290.3 358.0,287.0 358.5,283.8 358.9,280.4 359.3,277.3 359.8,274.4 360.2,271.7 360.7,269.4 361.1,267.3 361.6,265.5 362.0,263.9 362.5,262.7 362.9,261.7 363.4,261.1 363.8,260.7 364.3,260.6 364.7,260.8 365.2,261.3 365.6,262.1 366.0,263.2 366.5,264.6 366.9,266.2 367.4,268.2 367.8,270.4 368.3,272.8 368.7,275.6 369.2,278.7 369.6,281.9 370.1,285.2 370.5,288.6 371.0,292.1 371.4,295.2 371.9,298.3 372.3,300.7 372.8,301.9 373.2,301.3 373.6,298.2 374.1,293.6 374.5,287.3 375.0,280.2 375.4,273.2 375.9,266.1 376.3,259.3 376.8,252.8 377.2,246.7 377.7,240.9 378.1,235.6 378.6,230.6 379.0,226.0 379.5,221.8 379.9,218.1 380.4,214.7 380.8,211.7 381.2,209.1 381.7,207.0 382.1,205.2 382.6,203.8 383.0,202.9 383.5,202.3 383.9,202.2 384.4,202.5 384.8,203.3 385.3,204.7 385.7,206.6 386.2,209.1 386.6,212.1 387.1,215.6 387.5,219.6 388.0,224.2 388.4,229.3 388.8,234.9 389.3,241.0 389.7,247.7 390.2,254.8 390.6,262.4 391.1,270.4 391.5,278.5 392.0,286.4 392.4,291.4 392.9,291.6 393.3,285.5 393.8,276.7 394.2,267.3 394.7,258.0 395.1,249.1 395.6,240.7 396.0,232.7 396.4,225.3 396.9,218.4 397.3,212.1 397.8,206.2 398.2,200.9 398.7,196.1 399.1,191.9 399.6,188.2 400.0,185.0 400.5,182.3 400.9,180.2 401.4,178.6 401.8,177.6 402.3,177.0 402.7,177.0 403.1,177.5 403.6,178.4 404.0,179.7 404.5,181.5 404.9,183.8 405.4,186.4 405.8,189.6 406.3,193.2 406.7,197.2 407.2,201.7 407.6,206.6 408.1,212.0 408.5,217.8 409.0,224.1 409.4,230.8 409.9,238.0 410.3,245.6 410.7,253.4 411.2,261.2 411.6,267.6 412.1,269.3 412.5,264.9 413.0,257.1 413.4,248.5 413.9,240.1 414.3,232.0 414.8,224.3 415.2,217.1 415.7,210.3 416.1,204.0 416.6,198.1 417.0,192.7 417.5,187.7 417.9,183.2 418.3,179.1 418.8,175.4 419.2,172.2 419.7,169.5 420.1,167.2 420.6,165.4 421.0,164.0 421.5,163.0 421.9,162.5 422.4,162.5 422.8,162.9 423.3,163.9 423.7,165.5 424.2,167.5 424.6,170.1 425.1,173.2 425.5,176.8 425.9,180.9 426.4,185.6 426.8,190.8 427.3,196.5 427.7,202.8 428.2,209.5 428.6,216.8 429.1,224.6 429.5,233.0 430.0,241.8 430.4,251.1 430.9,260.5 431.3,269.1 431.8,273.1 432.2,269.5 432.7,261.2 433.1,252.0 433.5,242.9 434.0,234.2 434.4,226.1 434.9,218.4 435.3,211.3 435.8,204.7 436.2,198.7 436.7,193.1 437.1,188.1 437.6,183.6 438.0,179.6 438.5,176.2 438.9,173.3 439.4,170.9 439.8,169.0 440.3,167.7 440.7,166.9 441.1,166.6 441.6,166.8 442.0,167.6 442.5,168.8 442.9,170.6 443.4,172.8 443.8,175.6 444.3,178.9 444.7,182.7 445.2,187.0 445.6,191.8 446.1,197.1 446.5,203.0 447.0,209.3 447.4,216.1 447.9,223.5 448.3,231.4 448.7,239.7 449.2,248.5 449.6,257.4 450.1,265.4 450.5,269.4 451.0,266.7 451.4,259.5 451.9,251.2 452.3,243.1 452.8,235.3 453.2,228.0 453.7,221.3 454.1,215.0 454.6,209.2 455.0,204.0 455.4,199.2 455.9,195.0 456.3,191.2 456.8,188.0 457.2,185.3 457.7,183.1 458.1,181.4 458.6,180.2 459.0,179.5 459.5,179.3 459.9,179.8 460.4,181.0 460.8,182.9 461.3,185.4 461.7,188.7 462.2,192.7 462.6,197.4 463.0,202.8 463.5,208.9 463.9,215.6 464.4,223.1 464.8,231.2 465.3,240.1 465.7,249.5 466.2,259.5 466.6,269.9 467.1,280.3 467.5,289.3 468.0,296.6 468.4,301.4 468.9,303.5 469.3,304.9 469.8,305.4 470.2,306.5 470.6,306.5 471.1,307.0 471.5,307.3 472.0,307.3 472.4,308.0 472.9,308.2 473.3,308.2 473.8,309.0 474.2,308.6 474.7,309.2 475.1,309.7 475.6,308.9 476.0,309.0 476.5,309.5 476.9,309.9 477.4,310.2 477.8,309.7 478.2,309.5 478.7,310.3 479.1,310.0 479.6,309.6 480.0,309.9 480.5,310.2 480.9,309.6 481.4,310.5 481.8,310.0 482.3,309.9 482.7,310.6 483.2,310.4 483.6,310.4 484.1,309.7 484.5,310.5 485.0,310.6 485.4,310.9 485.8,310.1 486.3,310.4 486.7,311.2 487.2,311.2 487.6,310.9 488.1,311.1 488.5,311.1 489.0,311.4 489.4,311.7 489.9,311.2 490.3,311.6 490.8,310.7 491.2,311.4 491.7,311.4 492.1,311.5 492.5,311.9 493.0,311.8 493.4,312.2 493.9,312.0 494.3,311.9 494.8,312.0 495.2,312.7 495.7,311.8 496.1,312.1 496.6,311.6 497.0,311.8 497.5,311.8 497.9,311.7 498.4,312.0 498.8,311.8 499.3,312.0 499.7,311.8 500.1,311.8 500.6,312.4 501.0,312.4 501.5,312.6 501.9,312.0 502.4,312.7 502.8,312.5 503.3,312.6 503.7,312.8 504.2,312.4 504.6,312.6 505.1,312.3 505.5,312.8 506.0,312.5 506.4,312.0 506.9,312.3 507.3,312.6 507.7,312.4 508.2,312.9 508.6,312.5 509.1,312.6 509.5,312.6 510.0,312.6 510.4,312.7 510.9,313.1 511.3,313.2 511.8,313.4 512.2,313.2 512.7,313.9 513.1,313.5 513.6,313.8 514.0,313.6 514.5,313.1 514.9,313.8 515.3,313.4 515.8,313.3 516.2,313.9 516.7,313.6 517.1,313.5 517.6,313.7 518.0,313.6 518.5,313.5 518.9,313.4 519.4,313.6 519.8,313.2 520.3,313.4 520.7,313.6 521.2,313.5 521.6,314.1 522.1,314.1 522.5,314.1 522.9,313.8 523.4,313.5 523.8,314.1 524.3,314.3 524.7,314.2 525.2,313.9 525.6,314.3 526.1,314.2 526.5,313.8 527.0,313.6 527.4,313.9 527.9,314.0 528.3,314.1 528.8,313.9 529.2,314.9 529.7,314.2 530.1,314.3 530.5,314.5 531.0,314.5 531.4,314.4 531.9,314.7 532.3,314.4 532.8,314.8 533.2,314.5 533.7,314.4 534.1,314.9 534.6,314.4 535.0,314.6 535.5,314.6 535.9,314.2 536.4,314.4 536.8,314.7 537.2,314.3 537.7,314.1 538.1,314.5 538.6,314.5 539.0,314.5 539.5,314.6 539.9,314.7 540.4,314.3 540.8,314.3 541.3,314.9 541.7,314.6 542.2,314.7 542.6,314.5 543.1,314.4 543.5,314.6 544.0,314.5 544.4,314.6 544.8,314.7 545.3,314.8 545.7,314.7 546.2,315.1 546.6,315.3 547.1,314.7 547.5,314.7 548.0,314.4 548.4,314.7 548.9,314.9 549.3,314.5 549.8,314.2 550.2,314.7 550.7,314.5 551.1,314.7 551.6,314.9 552.0,314.3 552.4,314.7 552.9,314.2 553.3,314.7 553.8,315.0 554.2,314.8 554.7,314.7 555.1,314.6 555.6,314.4 556.0,314.4 556.5,313.9 556.9,314.8 557.4,314.5 557.8,314.2 558.3,314.0 558.7,314.2 559.2,314.2 559.6,314.1 560.0,314.4 560.5,314.4 560.9,314.3 561.4,314.8 561.8,314.5 562.3,314.8 562.7,314.5 563.2,314.6 563.6,314.3 564.1,314.4 564.5,314.4 565.0,314.7 565.4,314.3 565.9,314.9 566.3,314.1 566.8,314.1 567.2,314.2 567.6,314.1 568.1,314.6 568.5,314.4 569.0,314.5 569.4,314.2 569.9,314.2 570.3,314.0 570.8,314.7 571.2,314.8 571.7,314.5 572.1,314.8 572.6,314.9 573.0,314.6 573.5,314.8 573.9,315.0 574.4,314.7 574.8,315.0 575.2,315.4 575.7,315.2 576.1,315.2 576.6,315.4 577.0,315.0 577.5,315.3 577.9,315.2 578.4,315.2 578.8,315.5 579.3,315.6 579.7,315.5 580.2,315.7 580.6,315.2 581.1,315.8 581.5,316.0 582.0,315.5 582.4,315.7 582.8,316.0 583.3,315.4 583.7,315.4 584.2,315.8 584.6,315.8 585.1,315.3 585.5,315.3 586.0,315.3 586.4,315.6 586.9,315.4 587.3,315.2 587.8,315.4 588.2,315.4 588.7,315.2 589.1,315.4 589.5,315.4 590.0,315.3 590.4,315.1 590.9,315.2 591.3,315.0 591.8,315.3 592.2,315.2 592.7,315.6 593.1,315.0 593.6,315.2 594.0,315.6 594.5,315.2 594.9,315.5 595.4,315.2 595.8,314.8 596.3,315.2 596.7,315.4 597.1,315.3 597.6,315.1 598.0,315.2 598.5,314.9 598.9,315.5 599.4,314.7 599.8,315.1 600.3,315.1 600.7,314.8 601.2,314.9 601.6,315.5 602.1,315.4 602.5,314.8 603.0,315.2 603.4,315.3 603.9,314.9 604.3,315.1 604.7,315.0 605.2,315.3 605.6,315.3 606.1,315.3 606.5,315.2 607.0,315.1 607.4,315.7 607.9,315.6 608.3,315.5 608.8,315.3 609.2,315.5 609.7,315.2 610.1,314.9 610.6,315.1 611.0,314.9 611.5,315.2 611.9,315.6 612.3,315.2 612.8,315.0 613.2,315.3 613.7,315.1 614.1,314.8 614.6,315.0 615.0,315.4 615.5,315.4 615.9,314.9 616.4,315.0 616.8,315.4 617.3,315.2 617.7,315.1 618.2,314.9 618.6,315.0 619.1,314.6 619.5,315.4 619.9,315.7 620.4,315.3 620.8,315.1 621.3,315.6 621.7,315.7 622.2,315.4 622.6,315.6 623.1,315.3 623.5,315.7 624.0,315.0 624.4,315.4 624.9,315.3 625.3,315.8 625.8,315.3 626.2,315.0 626.6,315.5 627.1,315.1 627.5,315.4 628.0,315.4 628.4,315.7 628.9,315.7 629.3,316.5 629.8,316.2 630.2,316.3 630.7,316.2 631.1,316.3 631.6,316.5 632.0,316.0 632.5,316.0 632.9,316.0 633.4,315.7 633.8,316.0 634.2,315.6 634.7,315.7 635.1,316.1 635.6,315.6 636.0,315.9 636.5,315.8 636.9,315.9 637.4,315.5 637.8,315.7 638.3,316.5 638.7,316.0 639.2,316.1 639.6,315.8 640.1,315.6 640.5,315.7 641.0,316.1 641.4,316.2 641.8,315.7 642.3,315.8 642.7,315.5 643.2,315.6 643.6,315.8 644.1,315.5 644.5,315.8 645.0,315.7 645.4,316.0 645.9,315.8 646.3,315.5 646.8,316.2 647.2,316.2 647.7,316.0 648.1,315.6 648.6,315.8"/>
<polyline stroke="#1f77b4" points="90.2,312.7 90.7,312.7 91.1,312.7 91.6,313.3 92.0,312.7 92.5,313.1 92.9,312.9 93.4,312.8 93.8,313.2 94.3,312.6 94.7,312.9 95.2,313.1 95.6,313.0 96.1,313.2 96.5,313.2 97.0,312.8 97.4,312.8 97.8,312.6 98.3,312.4 98.7,312.7 99.2,313.5 99.6,312.7 100.1,312.7 100.5,312.6 101.0,312.4 101.4,312.6 101.9,312.3 102.3,312.3 102.8,311.9 103.2,312.6 103.7,312.7 104.1,312.4 104.6,311.7 105.0,312.8 105.4,312.4 105.9,312.6 106.3,312.4 106.8,312.3 107.2,312.6 107.7,312.1 108.1,311.9 108.6,312.6 109.0,312.2 109.5,312.7 109.9,312.7 110.4,312.2 110.8,312.1 111.3,312.6 111.7,312.1 112.2,311.9 112.6,312.4 113.0,312.7 113.5,312.3 113.9,312.1 114.4,312.5 114.8,312.4 115.3,312.7 115.7,312.6 116.2,312.8 116.6,312.7 117.1,312.6 117.5,312.8 118.0,312.9 118.4,313.3 118.9,313.4 119.3,313.1 119.8,313.0 120.2,313.1 120.6,313.0 121.1,313.1 121.5,313.1 122.0,313.1 122.4,313.0 122.9,312.8 123.3,313.1 123.8,313.4 124.2,313.3 124.7,313.3 125.1,313.1 125.6,312.9 126.0,313.8 126.5,313.3 126.9,313.3 127.4,312.6 127.8,313.3 128.2,312.9 128.7,312.7 129.1,313.1 129.6,313.0 130.0,313.0 130.5,312.9 130.9,313.1 131.4,312.8 131.8,312.9 132.3,312.9 132.7,312.4 133.2,313.1 133.6,312.5 134.1,312.8 134.5,312.8 135.0,312.9 135.4,312.8 135.8,312.7 136.3,313.1 136.7,312.7 137.2,313.4 137.6,313.0 138.1,313.1 138.5,312.8 139.0,312.5 139.4,312.7 139.9,312.4 140.3,312.4 140.8,312.0 141.2,312.8 141.7,312.7 142.1,312.3 142.5,312.8 143.0,312.2 143.4,312.2 143.9,312.5 144.3,312.5 144.8,312.3 145.2,312.2 145.7,312.4 146.1,312.2 146.6,312.5 147.0,312.2 147.5,312.0 147.9,312.1 148.4,312.6 148.8,312.6 149.3,312.6 149.7,312.4 150.1,312.3 150.6,312.7 151.0,312.7 151.5,312.4 151.9,313.0 152.4,312.2 152.8,312.4 153.3,312.6 153.7,312.1 154.2,312.3 154.6,312.5 155.1,311.8 155.5,312.3 156.0,312.3 156.4,312.2 156.9,312.3 157.3,312.2 157.7,312.4 158.2,312.1 158.6,312.2 159.1,312.2 159.5,311.9 160.0,312.4 160.4,312.1 160.9,311.9 161.3,311.7 161.8,312.0 162.2,312.1 162.7,311.7 163.1,312.4 163.6,311.7 164.0,312.4 164.5,312.3 164.9,311.8 165.3,312.1 165.8,312.4 166.2,311.9 166.7,312.1 167.1,312.3 167.6,312.0 168.0,312.0 168.5,312.1 168.9,311.8 169.4,311.8 169.8,312.3 170.3,311.9 170.7,311.9 171.2,311.9 171.6,312.3 172.1,311.8 172.5,312.5 172.9,312.2 173.4,312.2 173.8,312.1 174.3,312.1 174.7,312.0 175.2,311.8 175.6,311.4 176.1,311.9 176.5,311.6 177.0,311.8 177.4,311.7 177.9,311.9 178.3,311.8 178.8,311.4 179.2,311.7 179.6,311.7 180.1,312.1 180.5,311.7 181.0,311.7 181.4,311.8 181.9,311.7 182.3,312.0 182.8,312.2 183.2,311.9 183.7,312.0 184.1,311.6 184.6,312.2 185.0,312.0 185.5,311.7 185.9,312.1 186.4,311.4 186.8,311.4 187.2,311.9 187.7,311.7 188.1,311.6 188.6,312.0 189.0,312.0 189.5,311.5 189.9,311.5 190.4,311.9 190.8,311.9 191.3,312.0 191.7,312.1 192.2,311.5 192.6,311.6 193.1,311.6 193.5,311.9 194.0,311.7 194.4,311.4 194.8,311.7 195.3,311.4 195.7,311.5 196.2,312.0 196.6,311.2 197.1,311.6 197.5,311.9 198.0,311.5 198.4,311.8 198.9,311.2 199.3,311.6 199.8,311.5 200.2,311.2 200.7,311.9 201.1,311.4 201.6,311.2 202.0,311.3 202.4,311.6 202.9,311.3 203.3,311.0 203.8,311.6 204.2,311.6 204.7,311.3 205.1,311.5 205.6,311.6 206.0,311.1 206.5,311.8 206.9,311.4 207.4,312.0 207.8,312.4 208.3,311.8 208.7,311.6 209.2,311.9 209.6,311.4 210.0,311.7 210.5,311.6 210.9,311.6 211.4,311.8 211.8,311.1 212.3,311.0 212.7,310.8 213.2,310.7 213.6,310.6 214.1,310.6 214.5,310.4 215.0,310.6 215.4,310.8 215.9,310.4 216.3,310.3 216.8,310.7 217.2,310.6 217.6,310.3 218.1,310.7 218.5,310.1 219.0,310.7 219.4,310.6 219.9,310.8 220.3,310.8 220.8,311.0 221.2,311.3 221.7,311.5 222.1,311.5 222.6,311.3 223.0,311.6 223.5,311.1 223.9,311.3 224.4,311.2 224.8,311.2 225.2,310.8 225.7,311.2 226.1,311.2 226.6,310.6 227.0,311.1 227.5,310.7 227.9,311.2 228.4,311.1 228.8,311.0 229.3,311.4 229.7,310.7 230.2,310.6 230.6,311.2 231.1,310.8 231.5,311.0 231.9,311.2 232.4,310.7 232.8,311.4 233.3,311.1 233.7,310.9 234.2,311.2 234.6,311.0 235.1,311.4 235.5,311.0 236.0,310.9 236.4,311.2 236.9,310.9 237.3,310.8 237.8,310.6 238.2,310.4 238.7,310.5 239.1,310.7 239.5,310.3 240.0,309.9 240.4,310.3 240.9,310.4 241.3,310.3 241.8,310.1 242.2,310.6 242.7,309.9 243.1,310.3 243.6,309.8 244.0,310.5 244.5,310.6 244.9,310.3 245.4,310.2 245.8,310.4 246.3,310.6 246.7,310.7 247.1,310.8 247.6,310.7 248.0,311.0 248.5,310.9 248.9,311.2 249.4,311.0 249.8,311.1 250.3,310.9 250.7,310.8 251.2,311.0 251.6,310.2 252.1,310.3 252.5,310.2 253.0,309.7 253.4,310.8 253.9,310.1 254.3,310.2 254.7,310.0 255.2,310.5 255.6,310.5 256.1,310.7 256.5,310.3 257.0,310.1 257.4,310.8 257.9,310.6 258.3,310.6 258.8,310.8 259.2,311.1 259.7,310.3 260.1,310.9 260.6,310.1 261.0,310.7 261.5,310.0 261.9,309.9 262.3,310.3 262.8,310.4 263.2,310.2 263.7,310.1 264.1,310.5 264.6,310.3 265.0,310.0 265.5,310.1 265.9,310.1 266.4,310.8 266.8,310.7 267.3,310.5 267.7,310.6 268.2,310.4 268.6,310.9 269.0,310.2 269.5,310.3 269.9,310.3 270.4,310.5 270.8,310.8 271.3,310.7 271.7,310.0 272.2,310.2 272.6,309.7 273.1,310.0 273.5,310.4 274.0,309.7 274.4,310.1 274.9,310.0 275.3,309.8 275.8,310.4 276.2,310.3 276.6,309.6 277.1,310.3 277.5,310.1 278.0,310.1 278.4,310.0 278.9,309.8 279.3,309.7 279.8,309.8 280.2,309.6 280.7,309.3 281.1,309.9 281.6,309.5 282.0,309.4 282.5,309.8 282.9,309.0 283.4,309.3 283.8,309.4 284.2,309.2 284.7,309.3 285.1,309.5 285.6,309.5 286.0,309.7 286.5,309.3 286.9,309.3 287.4,309.6 287.8,309.1 288.3,308.8 288.7,309.4 289.2,308.6 289.6,308.7 290.1,308.8 290.5,309.1 291.0,308.6 291.4,309.1 291.8,309.0 292.3,309.3 292.7,309.5 293.2,309.0 293.6,308.7 294.1,309.3 294.5,309.0 295.0,309.1 295.4,309.1 295.9,308.9 296.3,308.6 296.8,308.5 297.2,308.8 297.7,308.9 298.1,308.8 298.6,309.3 299.0,309.1 299.4,309.3 299.9,309.1 300.3,309.6 300.8,309.1 301.2,309.3 301.7,309.3 302.1,309.3 302.6,309.0 303.0,309.4 303.5,309.7 303.9,309.1 304.4,309.1 304.8,309.5 305.3,309.1 305.7,309.1 306.2,309.7 306.6,309.7 307.0,309.8 307.5,309.1 307.9,310.1 308.4,309.9 308.8,309.7 309.3,309.5 309.7,309.6 310.2,309.8 310.6,309.7 311.1,309.6 311.5,309.7 312.0,309.8 312.4,309.6 312.9,309.5 313.3,309.4 313.8,309.4 314.2,309.5 314.6,309.2 315.1,309.0 315.5,309.3 316.0,309.1 316.4,308.8 316.9,308.6 317.3,308.8 317.8,308.7 318.2,308.5 318.7,308.6 319.1,308.4 319.6,308.6 320.0,308.1 320.5,307.5 320.9,307.8 321.3,307.6 321.8,307.1 322.2,306.7 322.7,306.1 323.1,306.4 323.6,305.8 324.0,305.7 324.5,305.3 324.9,304.8 325.4,304.2 325.8,303.7 326.3,303.4 326.7,303.2 327.2,302.8 327.6,302.8 328.1,302.6 328.5,302.6 328.9,302.4 329.4,302.4 329.8,302.1 330.3,302.9 330.7,302.8 331.2,303.1 331.6,303.5 332.1,303.8 332.5,304.2 333.0,304.2 333.4,304.7 333.9,304.9 334.3,305.0 334.8,305.9 335.2,305.4 335.7,306.2 336.1,306.1 336.5,306.2 337.0,306.4 337.4,306.1 337.9,305.5 338.3,305.3 338.8,304.3 339.2,303.2 339.7,302.3 340.1,301.1 340.6,299.5 341.0,297.8 341.5,296.0 341.9,294.8 342.4,292.9 342.8,291.5 343.3,289.8 343.7,288.8 344.1,287.5 344.6,286.6 345.0,285.7 345.5,285.1 345.9,284.8 346.4,284.7 346.8,284.5 347.3,284.8 347.7,285.1 348.2,285.6 348.6,286.6 349.1,287.4 349.5,288.4 350.0,289.8 350.4,290.9 350.9,292.8 351.3,294.1 351.7,295.9 352.2,297.5 352.6,299.3 353.1,300.7 353.5,302.1 354.0,303.6 354.4,304.9 354.9,306.4 355.3,306.6 355.8,307.6 356.2,307.2 356.7,307.7 357.1,307.6 357.6,306.9 358.0,305.4 358.5,303.9 358.9,301.5 359.3,299.1 359.8,295.6 360.2,292.1 360.7,288.7 361.1,285.2 361.6,281.6 362.0,278.1 362.5,274.8 362.9,271.8 363.4,269.0 363.8,266.5 364.3,264.2 364.7,262.3 365.2,260.6 365.6,259.2 366.0,258.1 366.5,257.3 366.9,256.7 367.4,256.5 367.8,256.6 368.3,256.9 368.7,257.6 369.2,258.5 369.6,259.8 370.1,261.3 370.5,263.1 371.0,265.2 371.4,267.6 371.9,270.2 372.3,273.1 372.8,276.3 373.2,279.6 373.6,283.2 374.1,286.7 374.5,290.6 375.0,294.0 375.4,297.6 375.9,300.3 376.3,302.3 376.8,304.3 377.2,304.4 377.7,303.0 378.1,300.7 378.6,296.6 379.0,290.8 379.5,284.5 379.9,277.7 380.4,270.8 380.8,264.1 381.2,257.7 381.7,251.6 382.1,245.9 382.6,240.5 383.0,235.6 383.5,231.0 383.9,226.8 384.4,223.1 384.8,219.7 385.3,216.7 385.7,214.2 386.2,212.0 386.6,210.2 387.1,208.9 387.5,207.9 388.0,207.4 388.4,207.2 388.8,207.6 389.3,208.5 389.7,210.1 390.2,212.2 390.6,214.9 391.1,218.3 391.5,222.2 392.0,226.6 392.4,231.7 392.9,237.4 393.3,243.6 393.8,250.4 394.2,257.7 394.7,265.6 395.1,273.7 395.6,281.7 396.0,288.0 396.4,288.9 396.9,283.2 397.3,274.3 397.8,264.5 398.2,254.9 398.7,245.8 399.1,237.2 399.6,229.2 400.0,221.7 400.5,214.9 400.9,208.6 401.4,202.9 401.8,197.8 402.3,193.3 402.7,189.3 403.1,186.0 403.6,183.3 404.0,181.1 404.5,179.5 404.9,178.5 405.4,178.2 405.8,178.3 406.3,178.8 406.7,179.8 407.2,181.2 407.6,183.0 408.1,185.2 408.5,187.8 409.0,190.8 409.4,194.2 409.9,198.1 410.3,202.3 410.7,207.0 411.2,212.1 411.6,217.5 412.1,223.4 412.5,229.7 413.0,236.4 413.4,243.5 413.9,250.8 414.3,258.1 414.8,264.2 415.2,266.6 415.7,263.4 416.1,256.6 416.6,248.8 417.0,240.9 417.5,233.3 417.9,226.1 418.3,219.3 418.8,212.9 419.2,206.9 419.7,201.3 420.1,196.1 420.6,191.3 421.0,187.0 421.5,183.0 421.9,179.5 422.4,176.4 422.8,173.6 423.3,171.3 423.7,169.5 424.2,168.0 424.6,166.9 425.1,166.2 425.5,166.0 425.9,166.2 426.4,167.0 426.8,168.2 427.3,170.1 427.7,172.4 428.2,175.3 428.6,178.7 429.1,182.6 429.5,187.1 430.0,192.1 430.4,197.7 430.9,203.7 431.3,210.3 431.8,217.5 432.2,225.1 432.7,233.3 433.1,242.0 433.5,251.0 434.0,260.0 434.4,266.8 434.9,267.2 435.3,261.0 435.8,252.2 436.2,243.2 436.7,234.6 437.1,226.4 437.6,218.8 438.0,211.6 438.5,205.1 438.9,199.0 439.4,193.5 439.8,188.5 440.3,184.0 440.7,180.1 441.1,176.7 441.6,173.8 442.0,171.5 442.5,169.7 442.9,168.4 443.4,167.7 443.8,167.5 444.3,167.8 444.7,168.6 445.2,169.8 445.6,171.6 446.1,173.9 446.5,176.6 447.0,179.8 447.4,183.5 447.9,187.7 448.3,192.4 448.7,197.5 449.2,203.2 449.6,209.3 450.1,215.9 450.5,223.0 451.0,230.6 451.4,238.6 451.9,247.0 452.3,255.5 452.8,263.0 453.2,266.6 453.7,263.9 454.1,257.2 454.6,249.4 455.0,241.7 455.4,234.4 455.9,227.6 456.3,221.2 456.8,215.3 457.2,209.9 457.7,204.9 458.1,200.5 458.6,196.5 459.0,193.1 459.5,190.1 459.9,187.6 460.4,185.5 460.8,184.0 461.3,183.0 461.7,182.4 462.2,182.3 462.6,182.9 463.0,184.2 463.5,186.2 463.9,188.9 464.4,192.3 464.8,196.4 465.3,201.2 465.7,206.7 466.2,213.0 466.6,219.9 467.1,227.5 467.5,235.7 468.0,244.6 468.4,254.1 468.9,264.1 469.3,274.1 469.8,283.8 470.2,292.1 470.6,298.8 471.1,302.1 471.5,303.8 472.0,304.8 472.4,305.7 472.9,305.8 473.3,305.7 473.8,306.6 474.2,306.0 474.7,307.1 475.1,307.0 475.6,307.4 476.0,307.8 476.5,307.7 476.9,307.9 477.4,308.1 477.8,308.0 478.2,308.2 478.7,309.0 479.1,308.4 479.6,309.0 480.0,309.4 480.5,308.8 480.9,308.8 481.4,309.3 481.8,309.2 482.3,309.4 482.7,309.1 483.2,309.3 483.6,309.2 484.1,309.6 484.5,309.1 485.0,309.3 485.4,308.6 485.8,309.0 486.3,309.5 486.7,309.7 487.2,309.2 487.6,309.6 488.1,309.2 488.5,309.2 489.0,309.1 489.4,309.2 489.9,309.4 490.3,309.8 490.8,309.9 491.2,309.9 491.7,309.7 492.1,310.3 492.5,310.3 493.0,310.1 493.4,310.7 493.9,310.6 494.3,310.5 494.8,310.6 495.2,310.7 495.7,310.4 496.1,310.8 496.6,310.4 497.0,310.7 497.5,311.0 497.9,311.4 498.4,310.9 498.8,310.6 499.3,310.8 499.7,310.9 500.1,310.8 500.6,310.7 501.0,310.9 501.5,311.1 501.9,310.5 502.4,310.9 502.8,310.8 503.3,311.1 503.7,310.9 504.2,310.8 504.6,311.3 505.1,311.2 505.5,311.3 506.0,311.6 506.4,311.0 506.9,311.8 507.3,311.4 507.7,311.8 508.2,311.7 508.6,311.8 509.1,311.9 509.5,311.7 510.0,312.3 510.4,311.9 510.9,311.7 511.3,311.3 511.8,311.7 512.2,312.0 512.7,311.6 513.1,311.8 513.6,312.2 514.0,312.2 514.5,312.4 514.9,311.8 515.3,312.5 515.8,312.5 516.2,312.2 516.7,312.0 517.1,312.4 517.6,312.1 518.0,312.7 518.5,312.2 518.9,312.4 519.4,312.4 519.8,313.0 520.3,312.3 520.7,312.6 521.2,312.6 521.6,313.0 522.1,312.4 522.5,313.0 522.9,312.8 523.4,313.0 523.8,313.1 524.3,312.9 524.7,313.0 525.2,312.8 525.6,313.3 526.1,313.0 526.5,313.5 527.0,313.2 527.4,313.7 527.9,313.3 528.3,313.3 528.8,313.5 529.2,313.5 529.7,313.3 530.1,313.0 530.5,313.3 531.0,313.3 531.4,313.3 531.9,313.0 532.3,313.1 532.8,313.3 533.2,313.9 533.7,313.3 534.1,313.6 534.6,313.2 535.0,313.5 535.5,313.1 535.9,313.4 536.4,313.4 536.8,313.2 537.2,313.6 537.7,313.0 538.1,313.4 538.6,313.4 539.0,313.7 539.5,313.4 539.9,313.8 540.4,313.3 540.8,313.8 541.3,313.6 541.7,313.8 542.2,313.6 542.6,313.4 543.1,313.7 543.5,313.9 544.0,313.6 544.4,313.7 544.8,313.5 545.3,313.8 545.7,313.6 546.2,313.2 546.6,313.3 547.1,313.5 547.5,313.2 548.0,313.0 548.4,312.9 548.9,313.3 549.3,313.0 549.8,313.3 550.2,313.5 550.7,312.9 551.1,313.1 551.6,313.2 552.0,313.2 552.4,313.6 552.9,313.2 553.3,313.4 553.8,313.7 554.2,313.6 554.7,313.9 555.1,313.9 555.6,313.1 556.0,313.1 556.5,313.3 556.9,312.9 557.4,313.0 557.8,313.4 558.3,312.8 558.7,312.9 559.2,312.9 559.6,313.2 560.0,313.5 560.5,313.1 560.9,312.9 561.4,312.4 561.8,313.8 562.3,313.4 562.7,313.1 563.2,313.2 563.6,313.1 564.1,313.7 564.5,313.7 565.0,313.2 565.4,313.9 565.9,313.6 566.3,313.9 566.8,313.4 567.2,313.6 567.6,313.1 568.1,313.6 568.5,313.3 569.0,313.6 569.4,313.8 569.9,314.1 570.3,313.6 570.8,313.9 571.2,313.3 571.7,313.8 572.1,313.6 572.6,313.6 573.0,314.4 573.5,313.9 573.9,313.7 574.4,313.7 574.8,313.8 575.2,313.4 575.7,313.5 576.1,313.5 576.6,313.4 577.0,314.0 577.5,313.4 577.9,313.7 578.4,314.0 578.8,313.5 579.3,313.3 579.7,313.5 580.2,313.7 580.6,314.0 581.1,313.4 581.5,313.8 582.0,314.0 582.4,314.2 582.8,313.9 583.3,314.3 583.7,313.7 584.2,313.7 584.6,314.1 585.1,314.4 585.5,314.3 586.0,313.7 586.4,313.8 586.9,314.0 587.3,313.8 587.8,313.9 588.2,314.2 588.7,314.2 589.1,313.8 589.5,313.6 590.0,314.4 590.4,313.8 590.9,314.0 591.3,314.1 591.8,313.8 592.2,313.6 592.7,313.5 593.1,313.5 593.6,313.4 594.0,313.7 594.5,313.9 594.9,313.1 595.4,313.2 595.8,314.0 596.3,314.1 596.7,314.2 597.1,313.9 597.6,314.0 598.0,314.3 598.5,314.1 598.9,314.1 599.4,314.1 599.8,314.2 600.3,314.3 600.7,314.2 601.2,314.7 601.6,314.3 602.1,314.6 602.5,314.1 603.0,314.0 603.4,314.1 603.9,314.1 604.3,313.5 604.7,313.7 605.2,313.7 605.6,314.0 606.1,313.8 606.5,314.1 607.0,313.8 607.4,314.5 607.9,313.9 608.3,314.4 608.8,314.0 609.2,313.9 609.7,313.6 610.1,314.0 610.6,314.0 611.0,313.7 611.5,313.6 611.9,313.7 612.3,313.8 612.8,313.5 613.2,313.9 613.7,313.6 614.1,313.8 614.6,313.5 615.0,314.0 615.5,313.4 615.9,313.4 616.4,313.8 616.8,314.1 617.3,313.7 617.7,313.9 618.2,313.7 618.6,313.6 619.1,313.5 619.5,313.6 619.9,314.1 620.4,313.7 620.8,313.9 621.3,313.7 621.7,314.5 622.2,314.1 622.6,314.1 623.1,314.4 623.5,313.9 624.0,313.8 624.4,313.9 624.9,314.1 625.3,314.2 625.8,313.8 626.2,314.2 626.6,313.6 627.1,313.8 627.5,314.1 628.0,313.6 628.4,313.6 628.9,314.4 629.3,313.9 629.8,314.1 630.2,314.1 630.7,313.7 631.1,313.9 631.6,313.7 632.0,314.1 632.5,314.5 632.9,314.7 633.4,314.5 633.8,314.5 634.2,314.8 634.7,314.9 635.1,314.6 635.6,314.8 636.0,314.3 636.5,314.9 636.9,314.6 637.4,314.7 637.8,314.1 638.3,314.7 638.7,314.8 639.2,314.5 639.6,314.6 640.1,314.2 640.5,314.2 641.0,314.4 641.4,314.5 641.8,315.1 642.3,314.8 642.7,314.7 643.2,314.8 643.6,314.4 644.1,314.3 644.5,314.9 645.0,315.1 645.4,314.8 645.9,314.4 646.3,315.0 646.8,315.2 647.2,314.9 647.7,315.4 648.1,315.3 648.6,315.0"/>
<polyline stroke="#17becf" points="90.2,310.8 90.7,311.0 91.1,310.9 91.6,311.1 92.0,310.8 92.5,310.9 92.9,310.6 93.4,310.6 93.8,310.7 94.3,310.7 94.7,310.7 95.2,310.3 95.6,310.3 96.1,310.2 96.5,310.6 97.0,310.3 97.4,310.4 97.8,310.2 98.3,309.7 98.7,310.1 99.2,310.1 99.6,310.6 100.1,310.2 100.5,310.5 101.0,310.2 101.4,309.8 101.9,309.6 102.3,310.1 102.8,310.5 103.2,309.8 103.7,309.8 104.1,310.2 104.6,310.6 105.0,309.8 105.4,310.1 105.9,310.0 106.3,310.5 106.8,310.2 107.2,309.7 107.7,310.4 108.1,310.0 108.6,310.3 109.0,310.2 109.5,310.1 109.9,310.5 110.4,310.3 110.8,310.3 111.3,310.5 111.7,310.2 112.2,310.3 112.6,310.5 113.0,309.8 113.5,310.0 113.9,310.3 114.4,310.1 114.8,310.7 115.3,310.3 115.7,310.3 116.2,310.3 116.6,310.7 117.1,310.5 117.5,310.4 118.0,310.7 118.4,310.0 118.9,310.6 119.3,310.9 119.8,310.6 120.2,310.2 120.6,310.9 121.1,310.0 121.5,310.3 122.0,310.5 122.4,310.5 122.9,310.2 123.3,310.9 123.8,310.8 124.2,310.9 124.7,310.6 125.1,311.0 125.6,311.0 126.0,310.9 126.5,310.8 126.9,310.7 127.4,311.0 127.8,310.8 128.2,310.8 128.7,310.6 129.1,310.3 129.6,310.8 130.0,310.8 130.5,310.6 130.9,310.5 131.4,310.2 131.8,310.4 132.3,310.1 132.7,310.2 133.2,309.9 133.6,310.2 134.1,309.8 134.5,310.0 135.0,310.6 135.4,310.3 135.8,310.4 136.3,310.4 136.7,310.2 137.2,310.5 137.6,310.0 138.1,309.6 138.5,309.5 139.0,309.8 139.4,309.7 139.9,309.9 140.3,309.6 140.8,309.9 141.2,309.9 141.7,309.9 142.1,309.9 142.5,310.2 143.0,309.8 143.4,310.4 143.9,310.1 144.3,310.3 144.8,310.5 145.2,310.1 145.7,310.2 146.1,310.4 146.6,310.0 147.0,310.3 147.5,310.0 147.9,310.3 148.4,309.9 148.8,310.6 149.3,310.3 149.7,310.1 150.1,309.9 150.6,310.3 151.0,309.8 151.5,310.2 151.9,310.3 152.4,310.7 152.8,310.1 153.3,310.5 153.7,310.5 154.2,310.4 154.6,310.3 155.1,310.6 155.5,310.4 156.0,310.6 156.4,310.7 156.9,310.4 157.3,309.9 157.7,310.2 158.2,310.4 158.6,309.9 159.1,309.8 159.5,309.9 160.0,309.5 160.4,309.5 160.9,309.8 161.3,309.2 161.8,309.7 162.2,309.1 162.7,309.5 163.1,309.4 163.6,309.2 164.0,309.3 164.5,309.1 164.9,309.1 165.3,308.8 165.8,309.4 166.2,309.3 166.7,309.2 167.1,309.4 167.6,309.5 168.0,309.4 168.5,309.3 168.9,308.8 169.4,309.8 169.8,309.4 170.3,309.8 170.7,308.9 171.2,309.5 171.6,309.3 172.1,310.0 172.5,309.4 172.9,309.4 173.4,309.3 173.8,309.1 174.3,309.2 174.7,308.9 175.2,309.2 175.6,309.5 176.1,309.0 176.5,309.0 177.0,309.3 177.4,309.1 177.9,309.2 178.3,309.5 178.8,309.6 179.2,309.0 179.6,309.4 180.1,309.5 180.5,309.3 181.0,309.9 181.4,309.8 181.9,309.6 182.3,309.4 182.8,309.5 183.2,309.6 183.7,309.6 184.1,309.6 184.6,309.4 185.0,310.1 185.5,309.2 185.9,309.8 186.4,309.6 186.8,309.4 187.2,309.8 187.7,309.8 188.1,309.6 188.6,309.6 189.0,309.5 189.5,309.6 189.9,309.4 190.4,309.5 190.8,309.8 191.3,309.6 191.7,309.5 192.2,309.8 192.6,309.9 193.1,309.6 193.5,309.6 194.0,309.8 194.4,309.7 194.8,309.0 195.3,309.3 195.7,309.4 196.2,309.1 196.6,309.1 197.1,309.5 197.5,308.9 198.0,309.7 198.4,309.9 198.9,309.5 199.3,309.1 199.8,309.1 200.2,308.5 200.7,308.5 201.1,308.9 201.6,309.1 202.0,309.2 202.4,308.7 202.9,309.1 203.3,308.9 203.8,309.0 204.2,308.8 204.7,308.4 205.1,309.0 205.6,308.6 206.0,309.1 206.5,309.4 206.9,308.8 207.4,309.8 207.8,308.9 208.3,309.2 208.7,309.2 209.2,309.3 209.6,309.1 210.0,309.3 210.5,309.4 210.9,309.1 211.4,308.9 211.8,309.1 212.3,309.0 212.7,309.4 213.2,309.0 213.6,309.1 214.1,308.9 214.5,308.9 215.0,309.1 215.4,308.8 215.9,309.2 216.3,308.6 216.8,308.4 217.2,308.5 217.6,309.2 218.1,309.0 218.5,308.8 219.0,308.9 219.4,308.8 219.9,308.7 220.3,309.1 220.8,308.8 221.2,308.7 221.7,308.7 222.1,309.3 222.6,308.9 223.0,309.0 223.5,308.9 223.9,309.5 224.4,309.3 224.8,309.3 225.2,308.8 225.7,309.2 226.1,309.4 226.6,309.1 227.0,308.7 227.5,308.3 227.9,308.4 228.4,308.5 228.8,309.0 229.3,308.6 229.7,308.6 230.2,308.4 230.6,308.6 231.1,308.4 231.5,308.8 231.9,308.6 232.4,308.6 232.8,308.2 233.3,309.1 233.7,309.0 234.2,308.6 234.6,308.9 235.1,308.4 235.5,308.8 236.0,308.9 236.4,309.1 236.9,308.8 237.3,308.6 237.8,308.8 238.2,308.6 238.7,308.5 239.1,309.2 239.5,309.0 240.0,308.2 240.4,308.2 240.9,308.3 241.3,308.3 241.8,308.2 242.2,308.5 242.7,308.5 243.1,308.2 243.6,308.6 244.0,308.3 244.5,308.1 244.9,308.4 245.4,307.9 245.8,308.1 246.3,308.2 246.7,308.5 247.1,308.0 247.6,308.5 248.0,308.0 248.5,307.9 248.9,308.5 249.4,308.1 249.8,307.8 250.3,308.2 250.7,308.4 251.2,308.1 251.6,308.4 252.1,308.2 252.5,308.6 253.0,308.4 253.4,308.1 253.9,308.2 254.3,308.2 254.7,308.4 255.2,308.3 255.6,308.0 256.1,308.2 256.5,308.1 257.0,308.3 257.4,308.4 257.9,308.6 258.3,308.2 258.8,308.6 259.2,308.7 259.7,308.2 260.1,308.7 260.6,308.3 261.0,308.1 261.5,308.0 261.9,308.7 262.3,308.3 262.8,308.0 263.2,308.1 263.7,308.2 264.1,307.6 264.6,308.3 265.0,308.5 265.5,308.3 265.9,308.4 266.4,308.3 266.8,308.4 267.3,308.4 267.7,308.7 268.2,307.7 268.6,308.3 269.0,308.5 269.5,308.3 269.9,308.3 270.4,307.9 270.8,308.2 271.3,308.3 271.7,307.8 272.2,308.0 272.6,307.4 273.1,308.3 273.5,308.5 274.0,307.7 274.4,307.9 274.9,307.5 275.3,307.9 275.8,307.5 276.2,308.0 276.6,307.5 277.1,308.0 277.5,308.2 278.0,307.8 278.4,307.7 278.9,307.1 279.3,307.5 279.8,307.3 280.2,307.3 280.7,308.0 281.1,307.3 281.6,307.6 282.0,307.4 282.5,307.4 282.9,307.6 283.4,307.3 283.8,307.7 284.2,307.8 284.7,307.1 285.1,307.5 285.6,307.3 286.0,307.2 286.5,307.0 286.9,307.4 287.4,307.4 287.8,306.9 288.3,307.3 288.7,307.0 289.2,307.0 289.6,307.0 290.1,306.9 290.5,306.8 291.0,306.9 291.4,306.3 291.8,306.4 292.3,306.8 292.7,306.7 293.2,306.9 293.6,306.6 294.1,306.8 294.5,306.6 295.0,306.8 295.4,307.0 295.9,306.9 296.3,306.6 296.8,306.5 297.2,306.6 297.7,306.6 298.1,306.4 298.6,306.5 299.0,306.0 299.4,306.5 299.9,306.6 300.3,306.5 300.8,306.7 301.2,306.7 301.7,306.9 302.1,307.2 302.6,306.6 303.0,307.3 303.5,307.2 303.9,306.8 304.4,306.6 304.8,306.9 305.3,307.1 305.7,307.0 306.2,307.0 306.6,307.1 307.0,307.3 307.5,307.2 307.9,307.4 308.4,307.2 308.8,307.4 309.3,307.6 309.7,307.1 310.2,307.8 310.6,307.7 311.1,307.1 311.5,307.4 312.0,307.4 312.4,307.6 312.9,307.8 313.3,307.5 313.8,308.0 314.2,306.9 314.6,307.1 315.1,307.5 315.5,307.3 316.0,306.8 316.4,307.0 316.9,306.4 317.3,306.5 317.8,306.4 318.2,305.9 318.7,305.9 319.1,305.8 319.6,305.9 320.0,304.8 320.5,305.2 320.9,305.0 321.3,304.6 321.8,304.2 322.2,303.8 322.7,303.2 323.1,303.1 323.6,302.6 324.0,302.3 324.5,301.9 324.9,301.3 325.4,301.6 325.8,301.5 326.3,300.6 326.7,300.6 327.2,300.5 327.6,299.9 328.1,300.1 328.5,300.0 328.9,300.1 329.4,300.5 329.8,300.4 330.3,300.9 330.7,301.3 331.2,301.7 331.6,301.7 332.1,302.4 332.5,302.7 333.0,303.4 333.4,303.7 333.9,304.2 334.3,304.1 334.8,304.5 335.2,304.7 335.7,304.4 336.1,304.8 336.5,304.4 337.0,304.0 337.4,303.9 337.9,302.9 338.3,302.1 338.8,301.0 339.2,299.5 339.7,298.7 340.1,297.2 340.6,295.2 341.0,294.1 341.5,292.4 341.9,290.8 342.4,289.3 342.8,288.0 343.3,286.9 343.7,285.8 344.1,284.9 344.6,284.4 345.0,283.7 345.5,283.7 345.9,283.4 346.4,283.4 346.8,283.8 347.3,284.3 347.7,284.8 348.2,285.6 348.6,286.9 349.1,287.8 349.5,289.1 350.0,290.8 350.4,292.1 350.9,293.5 351.3,295.0 351.7,296.6 352.2,297.9 352.6,299.2 353.1,301.1 353.5,302.0 354.0,303.3 354.4,303.8 354.9,304.4 355.3,304.4 355.8,303.9 356.2,304.5 356.7,303.3 357.1,302.3 357.6,300.2 358.0,298.0 358.5,295.6 358.9,292.5 359.3,289.3 359.8,285.8 360.2,282.4 360.7,279.1 361.1,276.1 361.6,273.2 362.0,270.6 362.5,268.2 362.9,266.1 363.4,264.2 363.8,262.6 364.3,261.3 364.7,260.3 365.2,259.6 365.6,259.2 366.0,259.1 366.5,259.2 366.9,259.7 367.4,260.4 367.8,261.5 368.3,262.8 368.7,264.4 369.2,266.3 369.6,268.4 370.1,270.9 370.5,273.5 371.0,276.4 371.4,279.5 371.9,282.9 372.3,286.3 372.8,289.5 373.2,292.9 373.6,295.8 374.1,298.2 374.5,299.7 375.0,301.3 375.4,300.5 375.9,298.5 376.3,294.3 376.8,289.1 377.2,283.1 377.7,276.5 378.1,270.0 378.6,263.6 379.0,257.6 379.5,251.8 379.9,246.4 380.4,241.4 380.8,236.8 381.2,232.5 381.7,228.7 382.1,225.3 382.6,222.2 383.0,219.6 383.5,217.4 383.9,215.5 384.4,214.1 384.8,213.1 385.3,212.5 385.7,212.2 386.2,212.5 386.6,213.2 387.1,214.5 387.5,216.2 388.0,218.5 388.4,221.2 388.8,224.5 389.3,228.3 389.7,232.6 390.2,237.4 390.6,242.7 391.1,248.4 391.5,254.7 392.0,261.4 392.4,268.4 392.9,275.6 393.3,282.9 393.8,288.2 394.2,290.1 394.7,286.1 395.1,278.4 395.6,269.2 396.0,259.9 396.4,250.8 396.9,242.2 397.3,234.0 397.8,226.3 398.2,219.1 398.7,212.4 399.1,206.2 399.6,200.5 400.0,195.4 400.5,190.7 400.9,186.6 401.4,182.9 401.8,179.8 402.3,177.2 402.7,175.0 403.1,173.4 403.6,172.3 404.0,171.7 404.5,171.7 404.9,172.0 405.4,172.8 405.8,174.0 406.3,175.7 406.7,177.7 407.2,180.2 407.6,183.2 408.1,186.5 408.5,190.3 409.0,194.5 409.4,199.2 409.9,204.2 410.3,209.7 410.7,215.7 411.2,222.0 411.6,228.8 412.1,236.0 412.5,243.5 413.0,251.3 413.4,258.9 413.9,264.7 414.3,265.5 414.8,260.7 415.2,253.1 415.7,244.9 416.1,236.8 416.6,229.1 417.0,221.8 417.5,214.9 417.9,208.4 418.3,202.4 418.8,196.8 419.2,191.6 419.7,186.8 420.1,182.5 420.6,178.6 421.0,175.1 421.5,172.1 421.9,169.5 422.4,167.3 422.8,165.5 423.3,164.2 423.7,163.3 424.2,162.8 424.6,162.8 425.1,163.3 425.5,164.3 425.9,165.8 426.4,167.9 426.8,170.5 427.3,173.6 427.7,177.2 428.2,181.4 428.6,186.1 429.1,191.4 429.5,197.2 430.0,203.5 430.4,210.3 430.9,217.7 431.3,225.5 431.8,233.9 432.2,242.8 432.7,251.8 433.1,259.7 433.5,263.1 434.0,259.0 434.4,250.8 434.9,241.7 435.3,232.9 435.8,224.5 436.2,216.6 436.7,209.3 437.1,202.5 437.6,196.2 438.0,190.4 438.5,185.2 438.9,180.5 439.4,176.3 439.8,172.6 440.3,169.5 440.7,166.9 441.1,164.9 441.6,163.3 442.0,162.3 442.5,161.9 442.9,161.9 443.4,162.5 443.8,163.6 444.3,165.2 444.7,167.3 445.2,169.9 445.6,173.0 446.1,176.6 446.5,180.7 447.0,185.3 447.4,190.5 447.9,196.1 448.3,202.3 448.7,208.9 449.2,216.1 449.6,223.7 450.1,231.9 450.5,240.5 451.0,249.6 451.4,258.7 451.9,266.7 452.3,270.2 452.8,266.7 453.2,259.2 453.7,250.9 454.1,242.6 454.6,234.8 455.0,227.5 455.4,220.7 455.9,214.3 456.3,208.5 456.8,203.2 457.2,198.4 457.7,194.1 458.1,190.3 458.6,187.0 459.0,184.2 459.5,181.9 459.9,180.1 460.4,178.9 460.8,178.1 461.3,177.9 461.7,178.2 462.2,179.3 462.6,181.0 463.0,183.5 463.5,186.7 463.9,190.5 464.4,195.1 464.8,200.4 465.3,206.3 465.7,213.0 466.2,220.4 466.6,228.4 467.1,237.1 467.5,246.4 468.0,256.3 468.4,266.6 468.9,276.8 469.3,285.9 469.8,293.7 470.2,298.4 470.6,301.0 471.1,302.1 471.5,303.2 472.0,303.6 472.4,304.2 472.9,304.2 473.3,304.6 473.8,304.8 474.2,305.6 474.7,305.2 475.1,305.6 475.6,305.4 476.0,305.6 476.5,306.3 476.9,306.2 477.4,306.5 477.8,306.4 478.2,306.3 478.7,306.5 479.1,306.6 479.6,306.1 480.0,307.0 480.5,306.7 480.9,307.0 481.4,307.0 481.8,307.0 482.3,307.0 482.7,307.5 483.2,307.0 483.6,307.5 484.1,307.5 484.5,307.8 485.0,307.6 485.4,308.1 485.8,308.0 486.3,307.8 486.7,307.8 487.2,308.5 487.6,308.7 488.1,307.8 488.5,308.4 489.0,308.5 489.4,308.7 489.9,308.7 490.3,308.8 490.8,308.8 491.2,309.1 491.7,308.7 492.1,308.8 492.5,309.0 493.0,309.1 493.4,309.2 493.9,309.0 494.3,309.3 494.8,309.5 495.2,309.3 495.7,309.4 496.1,309.6 496.6,309.3 497.0,309.3 497.5,309.6 497.9,309.5 498.4,309.3 498.8,309.9 499.3,309.8 499.7,310.1 500.1,310.0 500.6,310.2 501.0,309.8 501.5,310.1 501.9,309.8 502.4,310.0 502.8,310.1 503.3,309.7 503.7,310.3 504.2,309.5 504.6,309.9 505.1,310.3 505.5,310.2 506.0,310.3 506.4,310.2 506.9,310.0 507.3,310.2 507.7,310.6 508.2,310.7 508.6,310.4 509.1,310.2 509.5,310.8 510.0,310.3 510.4,310.4 510.9,310.3 511.3,309.9 511.8,310.4 512.2,310.2 512.7,310.6 513.1,310.3 513.6,310.8 514.0,310.8 514.5,310.9 514.9,310.9 515.3,311.1 515.8,311.6 516.2,311.2 516.7,311.3 517.1,311.1 517.6,311.6 518.0,311.3 518.5,311.1 518.9,311.4 519.4,311.7 519.8,311.8 520.3,311.6 520.7,311.4 521.2,311.7 521.6,311.2 522.1,311.7 522.5,311.3 522.9,311.2 523.4,311.6 523.8,311.0 524.3,311.4 524.7,311.9 525.2,311.3 525.6,311.2 526.1,311.4 526.5,311.2 527.0,311.1 527.4,311.4 527.9,311.4 528.3,311.3 528.8,311.6 529.2,311.5 529.7,311.7 530.1,312.0 530.5,311.7 531.0,311.9 531.4,311.8 531.9,311.8 532.3,311.8 532.8,312.4 533.2,311.9 533.7,312.3 534.1,312.4 534.6,311.9 535.0,312.6 535.5,312.0 535.9,312.6 536.4,312.2 536.8,312.3 537.2,312.6 537.7,312.2 538.1,313.2 538.6,312.4 539.0,312.5 539.5,312.2 539.9,312.5 540.4,312.3 540.8,312.5 541.3,312.2 541.7,312.2 542.2,312.8 542.6,312.0 543.1,312.5 543.5,312.0 544.0,312.7 544.4,312.5 544.8,312.2 545.3,312.6 545.7,312.3 546.2,312.6 546.6,312.5 547.1,312.5 547.5,312.4 548.0,312.0 548.4,312.6 548.9,312.4 549.3,312.5 549.8,312.4 550.2,312.4 550.7,312.3 551.1,312.1 551.6,311.7 552.0,312.5 552.4,312.1 552.9,311.9 553.3,311.7 553.8,312.4 554.2,311.6 554.7,312.0 555.1,311.7 555.6,312.1 556.0,312.3 556.5,312.6 556.9,312.4 557.4,312.4 557.8,312.8 558.3,312.4 558.7,312.4 559.2,312.2 559.6,312.5 560.0,312.4 560.5,312.2 560.9,311.9 561.4,312.1 561.8,312.4 562.3,312.3 562.7,311.7 563.2,311.8 563.6,312.1 564.1,312.0 564.5,312.5 565.0,312.5 565.4,312.5 565.9,312.2 566.3,312.5 566.8,312.8 567.2,312.6 567.6,312.6 568.1,312.2 568.5,312.3 569.0,312.3 569.4,312.5 569.9,312.2 570.3,312.2 570.8,312.8 571.2,312.5 571.7,312.4 572.1,312.5 572.6,312.5 573.0,312.5 573.5,312.4 573.9,312.4 574.4,312.6 574.8,312.8 575.2,313.1 575.7,312.8 576.1,312.6 576.6,312.4 577.0,312.0 577.5,312.4 577.9,312.9 578.4,312.5 578.8,312.9 579.3,313.1 579.7,313.0 580.2,312.8 580.6,313.2 581.1,313.1 581.5,313.3 582.0,313.5 582.4,313.3 582.8,312.9 583.3,313.3 583.7,312.9 584.2,312.8 584.6,312.7 585.1,312.9 585.5,312.7 586.0,312.8 586.4,313.3 586.9,313.1 587.3,313.1 587.8,312.5 588.2,313.3 588.7,313.3 589.1,312.9 589.5,312.9 590.0,313.0 590.4,313.3 590.9,313.8 591.3,312.6 591.8,313.1 592.2,312.9 592.7,313.2 593.1,313.3 593.6,313.2 594.0,312.7 594.5,312.9 594.9,312.4 595.4,313.3 595.8,313.1 596.3,313.1 596.7,312.8 597.1,312.7 597.6,313.2 598.0,313.0 598.5,313.1 598.9,313.1 599.4,312.6 599.8,312.7 600.3,312.6 600.7,312.4 601.2,312.4 601.6,312.1 602.1,312.3 602.5,312.5 603.0,312.7 603.4,312.6 603.9,312.4 604.3,312.6 604.7,312.9 605.2,312.8 605.6,312.9 606.1,312.2 606.5,312.5 607.0,313.1 607.4,312.9 607.9,312.7 608.3,312.8 608.8,313.0 609.2,313.5 609.7,312.5 610.1,313.1 610.6,312.5 611.0,312.5 611.5,312.8 611.9,312.7 612.3,312.6 612.8,312.7 613.2,312.7 613.7,312.7 614.1,312.2 614.6,312.4 615.0,312.9 615.5,312.9 615.9,312.5 616.4,312.4 616.8,312.7 617.3,313.2 617.7,312.2 618.2,313.0 618.6,312.6 619.1,312.8 619.5,312.8 619.9,312.9 620.4,312.9 620.8,312.4 621.3,312.2 621.7,312.7 622.2,312.6 622.6,312.6 623.1,312.6 623.5,313.0 624.0,312.8 624.4,313.1 624.9,313.3 625.3,314.0 625.8,313.4 626.2,313.8 626.6,313.3 627.1,313.4 627.5,313.8 628.0,313.5 628.4,313.5 628.9,313.6 629.3,313.3 629.8,313.3 630.2,313.5 630.7,313.8 631.1,313.2 631.6,313.7 632.0,313.5 632.5,313.4 632.9,313.2 633.4,313.3 633.8,313.5 634.2,313.2 634.7,313.3 635.1,312.8 635.6,313.2 636.0,313.2 636.5,313.5 636.9,313.2 637.4,313.3 637.8,313.5 638.3,313.3 638.7,312.8 639.2,312.8 639.6,313.2 640.1,313.5 640.5,313.4 641.0,313.7 641.4,313.2 641.8,313.2 642.3,313.5 642.7,313.5 643.2,313.5 643.6,313.6 644.1,313.4 644.5,313.8 645.0,313.7 645.4,313.3 645.9,313.7 646.3,313.5 646.8,313.4 647.2,313.5 647.7,313.4 648.1,313.6 648.6,313.4"/>
<polyline stroke="#7f7f7f" points="90.2,307.4 90.7,306.9 91.1,306.9 91.6,306.9 92.0,306.7 92.5,306.7 92.9,307.0 93.4,307.0 93.8,306.6 94.3,307.1 94.7,307.2 95.2,306.8 95.6,307.0 96.1,306.5 96.5,306.5 97.0,306.6 97.4,306.8 97.8,306.8 98.3,306.8 98.7,306.1 99.2,306.5 99.6,306.3 100.1,306.3 100.5,306.3 101.0,306.5 101.4,306.0 101.9,305.8 102.3,306.3 102.8,306.5 103.2,306.2 103.7,306.2 104.1,306.0 104.6,306.4 105.0,306.2 105.4,306.6 105.9,306.9 106.3,306.1 106.8,306.4 107.2,306.6 107.7,306.7 108.1,306.3 108.6,306.8 109.0,306.4 109.5,306.2 109.9,306.6 110.4,306.2 110.8,306.1 111.3,305.8 111.7,306.1 112.2,306.6 112.6,306.7 113.0,306.4 113.5,305.8 113.9,306.3 114.4,306.0 114.8,306.0 115.3,305.6 115.7,306.1 116.2,306.2 116.6,306.3 117.1,306.1 117.5,306.1 118.0,306.3 118.4,306.2 118.9,306.4 119.3,306.6 119.8,306.6 120.2,306.7 120.6,306.6 121.1,306.6 121.5,306.2 122.0,306.6 122.4,306.9 122.9,306.7 123.3,307.0 123.8,306.7 124.2,306.6 124.7,306.9 125.1,306.5 125.6,306.8 126.0,307.1 126.5,306.8 126.9,306.9 127.4,307.2 127.8,307.1 128.2,307.5 128.7,307.0 129.1,307.7 129.6,307.3 130.0,307.5 130.5,307.2 130.9,307.5 131.4,307.0 131.8,306.9 132.3,307.2 132.7,306.7 133.2,307.1 133.6,306.8 134.1,306.5 134.5,306.6 135.0,306.3 135.4,306.7 135.8,306.8 136.3,306.0 136.7,306.7 137.2,305.9 137.6,306.1 138.1,306.1 138.5,306.3 139.0,306.5 139.4,306.3 139.9,306.3 140.3,306.4 140.8,306.5 141.2,306.1 141.7,306.4 142.1,306.0 142.5,306.0 143.0,305.7 143.4,305.8 143.9,306.6 144.3,306.0 144.8,306.1 145.2,305.6 145.7,306.3 146.1,306.4 146.6,306.4 147.0,306.5 147.5,306.6 147.9,306.0 148.4,306.4 148.8,306.3 149.3,306.1 149.7,306.8 150.1,306.0 150.6,306.5 151.0,306.4 151.5,306.6 151.9,306.7 152.4,306.7 152.8,306.5 153.3,306.5 153.7,306.5 154.2,306.3 154.6,306.6 155.1,306.8 155.5,306.7 156.0,306.5 156.4,306.1 156.9,306.1 157.3,306.1 157.7,306.1 158.2,306.5 158.6,306.4 159.1,306.8 159.5,306.3 160.0,306.5 160.4,306.2 160.9,306.2 161.3,306.5 161.8,305.8 162.2,306.4 162.7,306.5 163.1,305.9 163.6,306.3 164.0,305.6 164.5,305.8 164.9,306.2 165.3,305.9 165.8,305.5 166.2,305.6 166.7,305.6 167.1,305.6 167.6,305.7 168.0,305.9 168.5,306.0 168.9,305.8 169.4,305.7 169.8,305.7 170.3,306.1 170.7,306.0 171.2,305.2 171.6,305.6 172.1,305.8 172.5,306.0 172.9,305.6 173.4,305.5 173.8,305.6 174.3,305.8 174.7,305.2 175.2,305.7 175.6,305.5 176.1,305.6 176.5,305.8 177.0,305.6 177.4,305.9 177.9,306.0 178.3,305.4 178.8,305.8 179.2,305.7 179.6,306.0 180.1,305.6 180.5,305.7 181.0,305.7 181.4,305.6 181.9,305.6 182.3,306.0 182.8,305.7 183.2,305.8 183.7,305.9 184.1,305.5 184.6,306.2 185.0,305.5 185.5,305.6 185.9,305.2 186.4,305.3 186.8,305.3 187.2,305.4 187.7,305.9 188.1,305.6 188.6,305.7 189.0,305.4 189.5,305.4 189.9,305.6 190.4,305.7 190.8,305.6 191.3,305.7 191.7,305.8 192.2,305.2 192.6,305.9 193.1,306.0 193.5,305.8 194.0,305.8 194.4,305.6 194.8,305.3 195.3,306.0 195.7,305.2 196.2,305.5 196.6,305.8 197.1,305.8 197.5,305.3 198.0,306.0 198.4,305.8 198.9,305.3 199.3,306.2 199.8,305.8 200.2,305.3 200.7,305.5 201.1,305.6 201.6,305.3 202.0,306.0 202.4,305.8 202.9,305.3 203.3,305.6 203.8,306.0 204.2,304.9 204.7,305.5 205.1,305.3 205.6,305.4 206.0,305.5 206.5,305.7 206.9,305.6 207.4,306.2 207.8,305.9 208.3,305.5 208.7,305.8 209.2,305.8 209.6,305.7 210.0,305.5 210.5,305.4 210.9,305.6 211.4,305.6 211.8,305.7 212.3,305.4 212.7,305.7 213.2,305.2 213.6,305.4 214.1,305.1 214.5,305.3 215.0,305.4 215.4,305.5 215.9,305.2 216.3,305.5 216.8,305.3 217.2,304.9 217.6,305.0 218.1,305.3 218.5,305.2 219.0,305.1 219.4,305.1 219.9,305.4 220.3,305.5 220.8,305.7 221.2,305.0 221.7,305.1 222.1,305.0 222.6,305.4 223.0,305.2 223.5,305.2 223.9,305.3 224.4,305.1 224.8,305.4 225.2,305.6 225.7,305.0 226.1,305.7 226.6,305.2 227.0,305.4 227.5,305.1 227.9,305.5 228.4,305.3 228.8,305.4 229.3,305.0 229.7,305.4 230.2,305.6 230.6,305.5 231.1,305.3 231.5,305.3 231.9,305.6 232.4,304.9 232.8,305.8 233.3,305.3 233.7,305.4 234.2,305.4 234.6,305.3 235.1,305.6 235.5,305.4 236.0,305.3 236.4,305.5 236.9,305.1 237.3,305.5 237.8,305.0 238.2,305.6 238.7,304.8 239.1,305.3 239.5,304.6 240.0,305.0 240.4,305.0 240.9,304.8 241.3,305.7 241.8,305.0 242.2,304.8 242.7,304.9 243.1,304.3 243.6,303.7 244.0,305.0 244.5,304.6 244.9,304.3 245.4,304.6 245.8,304.3 246.3,304.7 246.7,304.5 247.1,304.4 247.6,304.9 248.0,304.9 248.5,305.2 248.9,305.4 249.4,305.1 249.8,305.2 250.3,305.3 250.7,305.3 251.2,305.3 251.6,304.9 252.1,305.0 252.5,305.3 253.0,304.9 253.4,304.5 253.9,304.5 254.3,304.7 254.7,304.6 255.2,304.8 255.6,304.2 256.1,304.6 256.5,304.8 257.0,304.5 257.4,304.9 257.9,305.0 258.3,305.3 258.8,305.1 259.2,305.1 259.7,305.1 260.1,305.1 260.6,304.8 261.0,305.0 261.5,304.3 261.9,304.8 262.3,304.9 262.8,304.4 263.2,304.5 263.7,304.5 264.1,304.6 264.6,304.1 265.0,304.6 265.5,304.2 265.9,304.5 266.4,304.4 266.8,304.6 267.3,304.2 267.7,304.8 268.2,304.7 268.6,304.8 269.0,304.7 269.5,305.0 269.9,304.9 270.4,304.9 270.8,304.8 271.3,304.5 271.7,304.4 272.2,304.4 272.6,304.4 273.1,304.5 273.5,304.2 274.0,304.5 274.4,304.5 274.9,303.9 275.3,304.0 275.8,304.1 276.2,303.6 276.6,304.0 277.1,303.6 277.5,304.1 278.0,304.2 278.4,304.1 278.9,303.7 279.3,303.7 279.8,304.0 280.2,304.4 280.7,304.2 281.1,303.9 281.6,304.0 282.0,304.3 282.5,304.1 282.9,303.5 283.4,304.1 283.8,304.3 284.2,303.9 284.7,303.7 285.1,303.3 285.6,303.6 286.0,303.9 286.5,303.7 286.9,303.3 287.4,303.7 287.8,303.3 288.3,303.8 288.7,303.5 289.2,303.4 289.6,303.7 290.1,303.3 290.5,303.1 291.0,303.4 291.4,303.5 291.8,303.3 292.3,303.1 292.7,303.1 293.2,303.5 293.6,303.5 294.1,303.1 294.5,303.2 295.0,302.9 295.4,303.3 295.9,303.2 296.3,303.4 296.8,303.5 297.2,302.6 297.7,303.3 298.1,303.5 298.6,303.4 299.0,303.4 299.4,303.6 299.9,303.7 300.3,303.5 300.8,303.5 301.2,303.2 301.7,303.2 302.1,303.9 302.6,303.6 303.0,303.6 303.5,303.0 303.9,303.3 304.4,303.6 304.8,303.7 305.3,303.7 305.7,304.1 306.2,303.5 306.6,303.6 307.0,303.8 307.5,303.8 307.9,303.9 308.4,304.0 308.8,304.2 309.3,303.7 309.7,304.1 310.2,303.8 310.6,303.9 311.1,303.9 311.5,303.7 312.0,303.9 312.4,304.1 312.9,303.7 313.3,303.5 313.8,303.8 314.2,303.7 314.6,303.8 315.1,303.2 315.5,303.4 316.0,303.6 316.4,303.0 316.9,302.6 317.3,302.9 317.8,303.1 318.2,303.1 318.7,302.7 319.1,301.6 319.6,302.1 320.0,301.9 320.5,301.3 320.9,300.7 321.3,300.5 321.8,300.1 322.2,299.5 322.7,298.8 323.1,298.6 323.6,298.4 324.0,298.0 324.5,297.5 324.9,297.5 325.4,297.0 325.8,296.5 326.3,296.7 326.7,296.7 327.2,296.6 327.6,296.9 328.1,296.6 328.5,296.9 328.9,297.2 329.4,297.6 329.8,298.0 330.3,298.3 330.7,299.1 331.2,299.4 331.6,299.8 332.1,299.9 332.5,300.1 333.0,300.9 333.4,301.1 333.9,301.4 334.3,301.7 334.8,301.7 335.2,301.5 335.7,301.0 336.1,301.1 336.5,299.9 337.0,299.5 337.4,298.1 337.9,297.0 338.3,295.8 338.8,294.4 339.2,292.6 339.7,290.8 340.1,289.5 340.6,287.8 341.0,286.5 341.5,285.2 341.9,283.9 342.4,282.9 342.8,281.9 343.3,281.3 343.7,280.4 344.1,280.2 344.6,280.0 345.0,279.9 345.5,280.2 345.9,280.5 346.4,281.2 346.8,281.9 347.3,282.9 347.7,283.7 348.2,285.3 348.6,286.5 349.1,287.7 349.5,289.6 350.0,290.9 350.4,292.6 350.9,294.2 351.3,295.8 351.7,297.3 352.2,298.7 352.6,299.5 353.1,300.3 353.5,301.1 354.0,301.1 354.4,301.2 354.9,300.9 355.3,300.2 355.8,298.7 356.2,297.0 356.7,294.4 357.1,292.0 357.6,289.0 358.0,286.1 358.5,282.7 358.9,279.3 359.3,276.3 359.8,273.4 360.2,270.7 360.7,268.2 361.1,265.9 361.6,263.9 362.0,262.1 362.5,260.6 362.9,259.4 363.4,258.5 363.8,257.9 364.3,257.6 364.7,257.6 365.2,257.8 365.6,258.4 366.0,259.2 366.5,260.3 366.9,261.7 367.4,263.4 367.8,265.4 368.3,267.6 368.7,270.1 369.2,272.8 369.6,275.9 370.1,278.9 370.5,282.2 371.0,285.4 371.4,288.8 371.9,291.3 372.3,294.4 372.8,296.4 373.2,298.9 373.6,299.0 374.1,299.2 374.5,297.6 375.0,294.9 375.4,290.4 375.9,285.1 376.3,278.6 376.8,272.2 377.2,265.8 377.7,259.6 378.1,253.7 378.6,248.2 379.0,243.0 379.5,238.1 379.9,233.7 380.4,229.7 380.8,226.1 381.2,222.8 381.7,220.0 382.1,217.6 382.6,215.5 383.0,213.9 383.5,212.7 383.9,211.8 384.4,211.4 384.8,211.4 385.3,211.8 385.7,212.7 386.2,214.0 386.6,215.8 387.1,218.0 387.5,220.6 388.0,223.7 388.4,227.2 388.8,231.2 389.3,235.6 389.7,240.5 390.2,245.7 390.6,251.4 391.1,257.5 391.5,263.9 392.0,270.5 392.4,277.3 392.9,283.4 393.3,287.7 393.8,288.7 394.2,285.0 394.7,277.8 395.1,269.4 395.6,260.6 396.0,251.9 396.4,243.6 396.9,235.6 397.3,228.1 397.8,220.9 398.2,214.3 398.7,208.0 399.1,202.3 399.6,196.9 400.0,192.0 400.5,187.6 400.9,183.6 401.4,180.0 401.8,176.9 402.3,174.2 402.7,172.0 403.1,170.2 403.6,168.9 404.0,168.0 404.5,167.5 404.9,167.5 405.4,168.0 405.8,168.9 406.3,170.3 406.7,172.1 407.2,174.3 407.6,177.1 408.1,180.2 408.5,183.8 409.0,187.9 409.4,192.5 409.9,197.4 410.3,202.9 410.7,208.7 411.2,215.1 411.6,221.9 412.1,229.1 412.5,236.7 413.0,244.8 413.4,253.1 413.9,261.1 414.3,266.8 414.8,266.9 415.2,261.1 415.7,252.9 416.1,244.2 416.6,235.7 417.0,227.6 417.5,220.0 417.9,212.8 418.3,206.0 418.8,199.7 419.2,193.9 419.7,188.5 420.1,183.5 420.6,179.0 421.0,175.0 421.5,171.4 421.9,168.2 422.4,165.6 422.8,163.3 423.3,161.5 423.7,160.2 424.2,159.3 424.6,158.9 425.1,159.0 425.5,159.6 425.9,160.9 426.4,162.7 426.8,165.1 427.3,168.2 427.7,171.8 428.2,176.0 428.6,180.9 429.1,186.3 429.5,192.3 430.0,199.0 430.4,206.2 430.9,214.0 431.3,222.4 431.8,231.4 432.2,241.0 432.7,250.9 433.1,260.3 433.5,266.1 434.0,263.7 434.4,255.4 434.9,245.7 435.3,236.3 435.8,227.3 436.2,218.9 436.7,211.1 437.1,203.9 437.6,197.3 438.0,191.2 438.5,185.8 438.9,181.0 439.4,176.8 439.8,173.1 440.3,170.1 440.7,167.7 441.1,165.9 441.6,164.6 442.0,164.0 442.5,164.0 442.9,164.5 443.4,165.5 443.8,167.0 444.3,169.1 444.7,171.7 445.2,174.8 445.6,178.5 446.1,182.6 446.5,187.3 447.0,192.5 447.4,198.3 447.9,204.5 448.3,211.3 448.7,218.6 449.2,226.4 449.6,234.8 450.1,243.5 450.5,252.6 451.0,261.4 451.4,267.7 451.9,267.6 452.3,261.4 452.8,253.1 453.2,244.5 453.7,236.3 454.1,228.6 454.6,221.4 455.0,214.7 455.4,208.5 455.9,202.8 456.3,197.7 456.8,193.1 457.2,189.0 457.7,185.4 458.1,182.3 458.6,179.8 459.0,177.8 459.5,176.3 459.9,175.4 460.4,174.9 460.8,175.0 461.3,175.9 461.7,177.4 462.2,179.6 462.6,182.6 463.0,186.2 463.5,190.5 463.9,195.6 464.4,201.3 464.8,207.7 465.3,214.9 465.7,222.6 466.2,231.1 466.6,240.2 467.1,249.9 467.5,260.0 468.0,270.3 468.4,279.6 468.9,287.7 469.3,292.7 469.8,295.5 470.2,297.2 470.6,297.9 471.1,298.7 471.5,299.1 472.0,299.6 472.4,299.6 472.9,300.2 473.3,299.8 473.8,300.5 474.2,300.5 474.7,300.8 475.1,300.6 475.6,301.2 476.0,301.0 476.5,301.5 476.9,301.0 477.4,301.7 477.8,301.7 478.2,302.1 478.7,302.1 479.1,302.3 479.6,302.5 480.0,302.0 480.5,302.6 480.9,302.6 481.4,302.4 481.8,301.9 482.3,303.1 482.7,302.4 483.2,302.6 483.6,302.4 484.1,302.7 484.5,302.6 485.0,302.6 485.4,303.1 485.8,303.6 486.3,303.5 486.7,303.4 487.2,303.3 487.6,303.4 488.1,303.9 488.5,303.7 489.0,303.9 489.4,303.7 489.9,303.8 490.3,304.1 490.8,303.7 491.2,304.3 491.7,303.6 492.1,304.2 492.5,304.1 493.0,304.4 493.4,304.2 493.9,304.8 494.3,305.0 494.8,304.5 495.2,305.3 495.7,305.2 496.1,304.6 496.6,304.8 497.0,304.7 497.5,305.3 497.9,305.9 498.4,305.5 498.8,305.4 499.3,304.4 499.7,305.6 500.1,305.2 500.6,305.3 501.0,304.9 501.5,305.1 501.9,305.2 502.4,305.0 502.8,305.4 503.3,305.2 503.7,305.2 504.2,305.8 504.6,305.7 505.1,305.9 505.5,305.9 506.0,305.9 506.4,306.1 506.9,306.1 507.3,306.3 507.7,306.3 508.2,306.0 508.6,306.2 509.1,306.3 509.5,306.4 510.0,306.7 510.4,306.6 510.9,306.2 511.3,305.7 511.8,306.0 512.2,306.6 512.7,306.6 513.1,306.7 513.6,306.7 514.0,306.7 514.5,307.0 514.9,306.7 515.3,306.3 515.8,307.1 516.2,307.0 516.7,306.8 517.1,307.2 517.6,307.0 518.0,307.1 518.5,307.4 518.9,306.7 519.4,307.6 519.8,306.9 520.3,307.0 520.7,306.9 521.2,306.9 521.6,306.5 522.1,306.7 522.5,307.0 522.9,306.9 523.4,306.7 523.8,306.5 524.3,307.2 524.7,307.0 525.2,307.3 525.6,307.1 526.1,307.0 526.5,307.3 527.0,307.1 527.4,306.8 527.9,307.1 528.3,307.2 528.8,307.6 529.2,307.2 529.7,307.4 530.1,307.1 530.5,307.7 531.0,307.3 531.4,307.6 531.9,307.3 532.3,307.5 532.8,307.9 533.2,307.9 533.7,307.2 534.1,307.5 534.6,307.7 535.0,307.9 535.5,308.0 535.9,308.1 536.4,308.1 536.8,308.0 537.2,307.9 537.7,308.4 538.1,308.4 538.6,307.9 539.0,308.0 539.5,308.1 539.9,307.6 540.4,307.8 540.8,308.0 541.3,308.2 541.7,307.8 542.2,307.7 542.6,308.4 543.1,307.7 543.5,307.4 544.0,307.8 544.4,307.7 544.8,308.2 545.3,308.0 545.7,308.0 546.2,307.9 546.6,308.5 547.1,308.5 547.5,308.1 548.0,308.8 548.4,308.6 548.9,308.7 549.3,308.9 549.8,308.5 550.2,308.6 550.7,308.5 551.1,308.0 551.6,308.9 552.0,308.1 552.4,308.1 552.9,308.0 553.3,308.1 553.8,308.1 554.2,307.9 554.7,307.7 555.1,307.6 555.6,307.9 556.0,307.6 556.5,307.7 556.9,307.8 557.4,307.5 557.8,307.6 558.3,307.6 558.7,307.9 559.2,308.3 559.6,307.8 560.0,308.1 560.5,308.4 560.9,308.6 561.4,308.2 561.8,308.3 562.3,308.1 562.7,308.3 563.2,308.4 563.6,308.3 564.1,308.0 564.5,308.3 565.0,308.0 565.4,308.1 565.9,308.1 566.3,307.2 566.8,308.5 567.2,308.0 567.6,308.3 568.1,307.5 568.5,308.1 569.0,308.0 569.4,307.8 569.9,307.7 570.3,307.9 570.8,307.5 571.2,307.8 571.7,307.5 572.1,307.8 572.6,308.0 573.0,307.9 573.5,308.0 573.9,308.2 574.4,308.0 574.8,308.2 575.2,307.8 575.7,307.6 576.1,308.2 576.6,308.0 577.0,308.3 577.5,307.9 577.9,307.9 578.4,308.4 578.8,308.2 579.3,308.9 579.7,308.4 580.2,308.3 580.6,308.5 581.1,308.4 581.5,308.3 582.0,307.9 582.4,308.4 582.8,308.4 583.3,308.2 583.7,308.5 584.2,308.0 584.6,308.4 585.1,308.1 585.5,308.3 586.0,308.4 586.4,308.1 586.9,308.3 587.3,308.4 587.8,308.2 588.2,308.4 588.7,308.2 589.1,308.2 589.5,308.3 590.0,308.0 590.4,308.6 590.9,308.8 591.3,308.7 591.8,308.9 592.2,309.1 592.7,308.7 593.1,309.0 593.6,309.0 594.0,308.9 594.5,308.7 594.9,308.8 595.4,309.3 595.8,308.7 596.3,308.6 596.7,308.6 597.1,308.2 597.6,308.9 598.0,308.2 598.5,308.5 598.9,308.8 599.4,308.2 599.8,308.7 600.3,308.4 600.7,308.9 601.2,308.4 601.6,308.5 602.1,308.8 602.5,308.4 603.0,309.1 603.4,308.3 603.9,309.2 604.3,308.8 604.7,308.8 605.2,309.6 605.6,308.7 606.1,308.8 606.5,308.9 607.0,308.8 607.4,309.0 607.9,308.3 608.3,308.7 608.8,308.5 609.2,308.0 609.7,307.9 610.1,308.7 610.6,308.2 611.0,308.0 611.5,308.1 611.9,308.7 612.3,308.6 612.8,308.4 613.2,308.3 613.7,308.3 614.1,308.9 614.6,308.4 615.0,308.3 615.5,308.2 615.9,308.5 616.4,308.8 616.8,308.5 617.3,308.5 617.7,308.9 618.2,308.9 618.6,308.5 619.1,308.3 619.5,308.7 619.9,308.7 620.4,308.9 620.8,308.8 621.3,308.6 621.7,308.5 622.2,308.7 622.6,309.2 623.1,308.6 623.5,308.9 624.0,309.1 624.4,308.8 624.9,308.3 625.3,309.1 625.8,308.7 626.2,308.7 626.6,308.5 627.1,309.0 627.5,308.9 628.0,309.2 628.4,309.1 628.9,308.8 629.3,308.6 629.8,309.4 630.2,309.4 630.7,309.1 631.1,308.7 631.6,309.2 632.0,308.7 632.5,309.1 632.9,309.2 633.4,308.9 633.8,309.0 634.2,308.9 634.7,309.5 635.1,308.9 635.6,308.9 636.0,308.0 636.5,308.9 636.9,308.8 637.4,308.5 637.8,308.6 638.3,308.8 638.7,308.7 639.2,309.5 639.6,309.2 640.1,309.4 640.5,309.3 641.0,309.8 641.4,309.2 641.8,309.5 642.3,309.3 642.7,309.4 643.2,309.3 643.6,309.1 644.1,309.6 644.5,309.7 645.0,309.4 645.4,309.5 645.9,309.4 646.3,309.5 646.8,309.9 647.2,309.6 647.7,309.6 648.1,309.3 648.6,309.2"/>
</g>
<rect x="90.5" y="52.5" width="558.0" height="326.0" fill="none" stroke="#cccccc" stroke-width="1"/>
<rect x="97.5" y="59.5" width="87.0" height="153.0" rx="2.8" ry="2.8" fill="#fff" fill-opacity="0.8" stroke="#ccc" stroke-opacity="0.8" stroke-width="1"/>
<line x1="102.6" x2="132.7" y1="71.00" y2="71.00" stroke="#bcbd22" stroke-width="1.5"/>
<line x1="102.6" x2="132.7" y1="92.15" y2="92.15" stroke="#ff7f0e" stroke-width="1.5"/>
<line x1="102.6" x2="132.7" y1="113.30" y2="113.30" stroke="#d62728" stroke-width="1.5"/>
<line x1="102.6" x2="132.7" y1="134.45" y2="134.45" stroke="#9467bd" stroke-width="1.5"/>
<line x1="102.6" x2="132.7" y1="155.60" y2="155.60" stroke="#1f77b4" stroke-width="1.5"/>
<line x1="102.6" x2="132.7" y1="176.75" y2="176.75" stroke="#17becf" stroke-width="1.5"/>
<line x1="102.6" x2="132.7" y1="197.90" y2="197.90" stroke="#7f7f7f" stroke-width="1.5"/>
<text transform="translate(142.77,75.75) scale(0.9014,1)" font-size="15.9">Ch. 1</text>
<text transform="translate(142.76,96.90) scale(0.9233,1)" font-size="15.9">Ch. 2</text>
<text transform="translate(142.76,118.05) scale(0.9233,1)" font-size="15.9">Ch. 3</text>
<text transform="translate(142.76,139.20) scale(0.9170,1)" font-size="15.9">Ch. 4</text>
<text transform="translate(142.76,160.35) scale(0.9201,1)" font-size="15.9">Ch. 5</text>
<text transform="translate(142.76,181.50) scale(0.9233,1)" font-size="15.9">Ch. 6</text>
<text transform="translate(142.76,202.65) scale(0.9233,1)" font-size="15.9">Ch. 7</text>
<text transform="translate(152.93,392.00) scale(0.8933,1)" font-size="15.9" letter-spacing="-0.45">842</text>
<text transform="translate(227.94,392.00) scale(0.8841,1)" font-size="15.9" letter-spacing="-0.45">844</text>
<text transform="translate(301.93,392.00) scale(0.8933,1)" font-size="15.9" letter-spacing="-0.45">846</text>
<text transform="translate(376.93,392.00) scale(0.8933,1)" font-size="15.9" letter-spacing="-0.45">848</text>
<text transform="translate(450.93,392.00) scale(0.8887,1)" font-size="15.9" letter-spacing="-0.45">850</text>
<text transform="translate(525.93,392.00) scale(0.8933,1)" font-size="15.9" letter-spacing="-0.45">852</text>
<text transform="translate(599.94,392.00) scale(0.8841,1)" font-size="15.9" letter-spacing="-0.45">854</text>
<text transform="translate(70.42,57.00) scale(0.9102,1)" font-size="15.9" letter-spacing="-0.45">20</text>
<text transform="translate(78.91,117.00) scale(0.9443,1)" font-size="15.9">0</text>
<text transform="translate(62.93,176.00) scale(0.8975,1)" font-size="15.9" letter-spacing="-0.45">−20</text>
<text transform="translate(62.92,235.00) scale(0.9015,1)" font-size="15.9" letter-spacing="-0.45">−40</text>
<text transform="translate(62.92,295.00) scale(0.9015,1)" font-size="15.9" letter-spacing="-0.45">−60</text>
<text transform="translate(62.92,354.00) scale(0.9015,1)" font-size="15.9" letter-spacing="-0.45">−80</text>
<text transform="translate(250.82,46.00) scale(1.0001,1)" font-size="17.28">D4373 V20091 Reception Test</text>
<text transform="translate(304.23,412.00) scale(0.9977,1)" font-size="17.28">Wavelength [nm]</text>
<text transform="translate(54.20,286.98) rotate(-90) scale(1.0023,1)" font-size="17.28">Optical Power [dB]</text>
</svg></body></html>
